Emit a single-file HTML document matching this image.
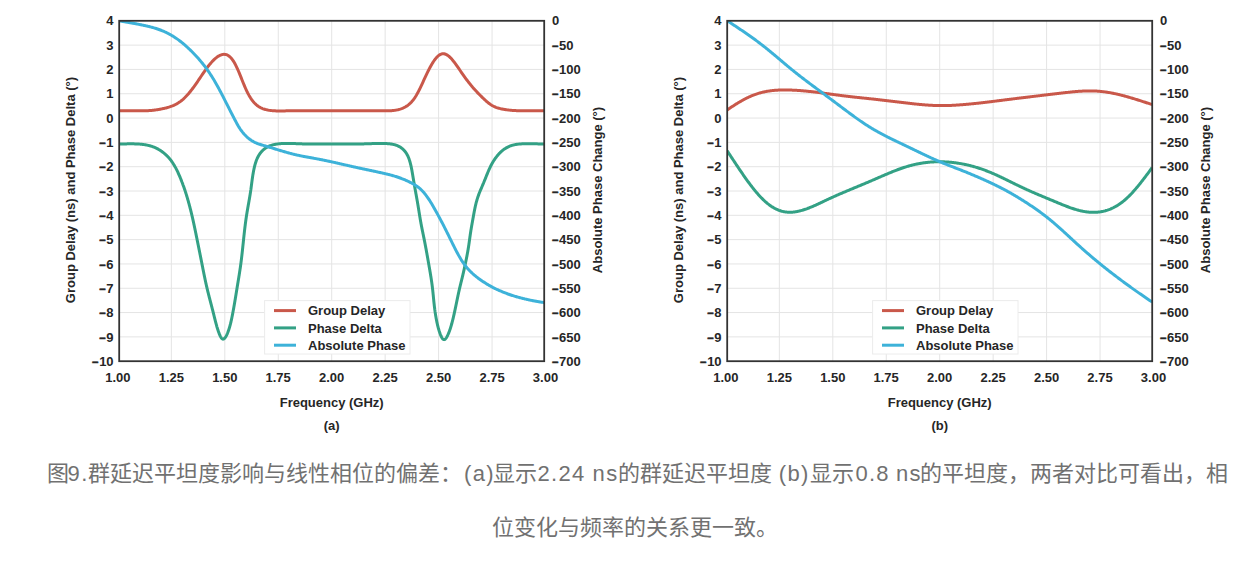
<!DOCTYPE html>
<html lang="zh-CN"><head><meta charset="utf-8"><style>
html,body{margin:0;padding:0;background:#fff}
body{width:1258px;height:564px;overflow:hidden;position:relative;font-family:"Liberation Sans",sans-serif}
svg{position:absolute;left:0;top:0}
svg text{font-family:"Liberation Sans",sans-serif;font-weight:bold;font-size:13px;fill:#262626}
.cap{position:absolute;font-size:22px;line-height:22px;color:#717171;white-space:nowrap}
</style></head><body>
<svg width="1258" height="564" viewBox="0 0 1258 564">
<path d="M119.2,45.11H544.2M119.2,69.43H544.2M119.2,93.74H544.2M119.2,118.06H544.2M119.2,142.37H544.2M119.2,166.69H544.2M119.2,191.00H544.2M119.2,215.31H544.2M119.2,239.63H544.2M119.2,263.94H544.2M119.2,288.26H544.2M119.2,312.57H544.2M119.2,336.89H544.2M171.35,20.8V361.2M224.80,20.8V361.2M278.25,20.8V361.2M331.70,20.8V361.2M385.15,20.8V361.2M438.60,20.8V361.2M492.05,20.8V361.2" stroke="#e4e4e4" stroke-width="1.0" fill="none"/>
<clipPath id="cpa"><rect x="119.2" y="20.8" width="425.0" height="340.4"/></clipPath><g clip-path="url(#cpa)">
<path d="M119.20,110.76 L119.91,110.76 L120.62,110.76 L121.33,110.76 L122.04,110.76 L122.75,110.76 L123.46,110.76 L124.17,110.76 L124.88,110.76 L125.59,110.76 L126.30,110.76 L127.00,110.76 L127.71,110.77 L128.42,110.77 L129.13,110.77 L129.84,110.77 L130.55,110.77 L131.26,110.77 L131.97,110.78 L132.68,110.78 L133.39,110.78 L134.10,110.78 L134.81,110.79 L135.52,110.79 L136.23,110.79 L136.94,110.79 L137.65,110.79 L138.36,110.79 L139.07,110.79 L139.78,110.79 L140.49,110.79 L141.19,110.79 L141.90,110.79 L142.61,110.79 L143.32,110.78 L144.03,110.77 L144.74,110.76 L145.45,110.75 L146.16,110.73 L146.87,110.71 L147.58,110.68 L148.29,110.65 L149.00,110.61 L149.71,110.57 L150.42,110.52 L151.13,110.46 L151.84,110.40 L152.55,110.33 L153.26,110.25 L153.97,110.17 L154.68,110.08 L155.39,109.98 L156.09,109.88 L156.80,109.77 L157.51,109.66 L158.22,109.54 L158.93,109.42 L159.64,109.29 L160.35,109.16 L161.06,109.02 L161.77,108.88 L162.48,108.74 L163.19,108.59 L163.90,108.44 L164.61,108.28 L165.32,108.11 L166.03,107.94 L166.74,107.76 L167.45,107.56 L168.16,107.36 L168.87,107.15 L169.58,106.93 L170.29,106.69 L170.99,106.44 L171.70,106.18 L172.41,105.91 L173.12,105.61 L173.83,105.31 L174.54,104.98 L175.25,104.64 L175.96,104.27 L176.67,103.89 L177.38,103.48 L178.09,103.05 L178.80,102.59 L179.51,102.11 L180.22,101.60 L180.93,101.06 L181.64,100.50 L182.35,99.91 L183.06,99.29 L183.77,98.64 L184.48,97.96 L185.18,97.26 L185.89,96.54 L186.60,95.79 L187.31,95.02 L188.02,94.22 L188.73,93.40 L189.44,92.55 L190.15,91.69 L190.86,90.80 L191.57,89.89 L192.28,88.97 L192.99,88.02 L193.70,87.06 L194.41,86.08 L195.12,85.09 L195.83,84.09 L196.54,83.07 L197.25,82.04 L197.96,81.00 L198.67,79.95 L199.38,78.89 L200.08,77.83 L200.79,76.78 L201.50,75.72 L202.21,74.67 L202.92,73.62 L203.63,72.59 L204.34,71.56 L205.05,70.55 L205.76,69.56 L206.47,68.58 L207.18,67.63 L207.89,66.69 L208.60,65.78 L209.31,64.89 L210.02,64.03 L210.73,63.19 L211.44,62.38 L212.15,61.60 L212.86,60.85 L213.57,60.14 L214.28,59.45 L214.98,58.80 L215.69,58.19 L216.40,57.61 L217.11,57.08 L217.82,56.59 L218.53,56.14 L219.24,55.73 L219.95,55.38 L220.66,55.07 L221.37,54.81 L222.08,54.61 L222.79,54.46 L223.50,54.37 L224.21,54.34 L224.92,54.38 L225.63,54.49 L226.34,54.67 L227.05,54.93 L227.76,55.27 L228.47,55.69 L229.17,56.20 L229.88,56.79 L230.59,57.47 L231.30,58.25 L232.01,59.12 L232.72,60.09 L233.43,61.14 L234.14,62.29 L234.85,63.54 L235.56,64.87 L236.27,66.30 L236.98,67.81 L237.69,69.38 L238.40,71.02 L239.11,72.70 L239.82,74.42 L240.53,76.17 L241.24,77.93 L241.95,79.71 L242.66,81.47 L243.37,83.22 L244.07,84.93 L244.78,86.61 L245.49,88.23 L246.20,89.80 L246.91,91.29 L247.62,92.73 L248.33,94.09 L249.04,95.39 L249.75,96.62 L250.46,97.77 L251.17,98.85 L251.88,99.85 L252.59,100.79 L253.30,101.67 L254.01,102.48 L254.72,103.24 L255.43,103.94 L256.14,104.59 L256.85,105.19 L257.56,105.74 L258.27,106.25 L258.97,106.72 L259.68,107.15 L260.39,107.54 L261.10,107.90 L261.81,108.23 L262.52,108.53 L263.23,108.80 L263.94,109.05 L264.65,109.27 L265.36,109.48 L266.07,109.66 L266.78,109.83 L267.49,109.99 L268.20,110.12 L268.91,110.25 L269.62,110.36 L270.33,110.46 L271.04,110.54 L271.75,110.62 L272.46,110.68 L273.16,110.74 L273.87,110.79 L274.58,110.83 L275.29,110.87 L276.00,110.90 L276.71,110.92 L277.42,110.94 L278.13,110.95 L278.84,110.96 L279.55,110.96 L280.26,110.96 L280.97,110.96 L281.68,110.96 L282.39,110.95 L283.10,110.93 L283.81,110.92 L284.52,110.91 L285.23,110.89 L285.94,110.87 L286.65,110.86 L287.36,110.84 L288.06,110.82 L288.77,110.81 L289.48,110.79 L290.19,110.78 L290.90,110.77 L291.61,110.76 L292.32,110.75 L293.03,110.74 L293.74,110.74 L294.45,110.73 L295.16,110.73 L295.87,110.72 L296.58,110.72 L297.29,110.72 L298.00,110.72 L298.71,110.71 L299.42,110.71 L300.13,110.72 L300.84,110.72 L301.55,110.72 L302.26,110.72 L302.96,110.72 L303.67,110.73 L304.38,110.73 L305.09,110.73 L305.80,110.74 L306.51,110.74 L307.22,110.74 L307.93,110.75 L308.64,110.75 L309.35,110.75 L310.06,110.76 L310.77,110.76 L311.48,110.76 L312.19,110.76 L312.90,110.76 L313.61,110.77 L314.32,110.77 L315.03,110.77 L315.74,110.77 L316.45,110.77 L317.15,110.77 L317.86,110.77 L318.57,110.77 L319.28,110.77 L319.99,110.77 L320.70,110.77 L321.41,110.77 L322.12,110.77 L322.83,110.77 L323.54,110.77 L324.25,110.77 L324.96,110.77 L325.67,110.77 L326.38,110.77 L327.09,110.77 L327.80,110.77 L328.51,110.77 L329.22,110.77 L329.93,110.77 L330.64,110.77 L331.35,110.76 L332.05,110.76 L332.76,110.76 L333.47,110.76 L334.18,110.76 L334.89,110.76 L335.60,110.76 L336.31,110.76 L337.02,110.76 L337.73,110.76 L338.44,110.76 L339.15,110.76 L339.86,110.76 L340.57,110.76 L341.28,110.76 L341.99,110.76 L342.70,110.76 L343.41,110.76 L344.12,110.76 L344.83,110.76 L345.54,110.76 L346.25,110.76 L346.95,110.76 L347.66,110.76 L348.37,110.76 L349.08,110.76 L349.79,110.76 L350.50,110.76 L351.21,110.76 L351.92,110.76 L352.63,110.76 L353.34,110.76 L354.05,110.76 L354.76,110.76 L355.47,110.76 L356.18,110.76 L356.89,110.76 L357.60,110.75 L358.31,110.75 L359.02,110.75 L359.73,110.75 L360.44,110.75 L361.14,110.75 L361.85,110.75 L362.56,110.75 L363.27,110.75 L363.98,110.75 L364.69,110.75 L365.40,110.75 L366.11,110.75 L366.82,110.75 L367.53,110.75 L368.24,110.75 L368.95,110.75 L369.66,110.75 L370.37,110.76 L371.08,110.76 L371.79,110.76 L372.50,110.76 L373.21,110.77 L373.92,110.77 L374.63,110.77 L375.34,110.78 L376.04,110.78 L376.75,110.79 L377.46,110.79 L378.17,110.80 L378.88,110.80 L379.59,110.81 L380.30,110.81 L381.01,110.82 L381.72,110.82 L382.43,110.83 L383.14,110.83 L383.85,110.83 L384.56,110.83 L385.27,110.83 L385.98,110.83 L386.69,110.83 L387.40,110.82 L388.11,110.81 L388.82,110.79 L389.53,110.77 L390.24,110.74 L390.94,110.70 L391.65,110.66 L392.36,110.60 L393.07,110.53 L393.78,110.46 L394.49,110.37 L395.20,110.26 L395.91,110.14 L396.62,110.01 L397.33,109.86 L398.04,109.70 L398.75,109.52 L399.46,109.32 L400.17,109.10 L400.88,108.86 L401.59,108.60 L402.30,108.32 L403.01,108.02 L403.72,107.70 L404.43,107.35 L405.13,106.98 L405.84,106.58 L406.55,106.14 L407.26,105.67 L407.97,105.16 L408.68,104.61 L409.39,104.01 L410.10,103.36 L410.81,102.67 L411.52,101.92 L412.23,101.11 L412.94,100.25 L413.65,99.33 L414.36,98.34 L415.07,97.30 L415.78,96.19 L416.49,95.02 L417.20,93.78 L417.91,92.49 L418.62,91.14 L419.33,89.74 L420.03,88.30 L420.74,86.83 L421.45,85.33 L422.16,83.81 L422.87,82.28 L423.58,80.74 L424.29,79.20 L425.00,77.66 L425.71,76.14 L426.42,74.63 L427.13,73.14 L427.84,71.68 L428.55,70.26 L429.26,68.87 L429.97,67.52 L430.68,66.22 L431.39,64.97 L432.10,63.76 L432.81,62.61 L433.52,61.52 L434.23,60.48 L434.93,59.51 L435.64,58.60 L436.35,57.76 L437.06,56.99 L437.77,56.29 L438.48,55.68 L439.19,55.14 L439.90,54.69 L440.61,54.32 L441.32,54.05 L442.03,53.86 L442.74,53.76 L443.45,53.75 L444.16,53.82 L444.87,53.98 L445.58,54.22 L446.29,54.53 L447.00,54.92 L447.71,55.38 L448.42,55.90 L449.12,56.48 L449.83,57.13 L450.54,57.83 L451.25,58.58 L451.96,59.37 L452.67,60.21 L453.38,61.09 L454.09,62.00 L454.80,62.93 L455.51,63.90 L456.22,64.88 L456.93,65.88 L457.64,66.90 L458.35,67.92 L459.06,68.95 L459.77,69.98 L460.48,71.00 L461.19,72.03 L461.90,73.05 L462.61,74.07 L463.32,75.08 L464.02,76.09 L464.73,77.08 L465.44,78.07 L466.15,79.04 L466.86,79.99 L467.57,80.94 L468.28,81.86 L468.99,82.77 L469.70,83.67 L470.41,84.55 L471.12,85.42 L471.83,86.27 L472.54,87.11 L473.25,87.93 L473.96,88.74 L474.67,89.54 L475.38,90.32 L476.09,91.09 L476.80,91.85 L477.51,92.60 L478.22,93.34 L478.92,94.06 L479.63,94.78 L480.34,95.49 L481.05,96.19 L481.76,96.88 L482.47,97.57 L483.18,98.24 L483.89,98.92 L484.60,99.59 L485.31,100.24 L486.02,100.89 L486.73,101.52 L487.44,102.13 L488.15,102.72 L488.86,103.28 L489.57,103.82 L490.28,104.33 L490.99,104.80 L491.70,105.24 L492.41,105.65 L493.11,106.03 L493.82,106.39 L494.53,106.71 L495.24,107.02 L495.95,107.30 L496.66,107.56 L497.37,107.80 L498.08,108.02 L498.79,108.22 L499.50,108.41 L500.21,108.59 L500.92,108.76 L501.63,108.91 L502.34,109.06 L503.05,109.20 L503.76,109.33 L504.47,109.45 L505.18,109.57 L505.89,109.68 L506.60,109.78 L507.31,109.88 L508.01,109.97 L508.72,110.05 L509.43,110.13 L510.14,110.20 L510.85,110.26 L511.56,110.33 L512.27,110.38 L512.98,110.43 L513.69,110.48 L514.40,110.52 L515.11,110.56 L515.82,110.60 L516.53,110.63 L517.24,110.66 L517.95,110.69 L518.66,110.71 L519.37,110.73 L520.08,110.75 L520.79,110.76 L521.50,110.78 L522.21,110.79 L522.91,110.80 L523.62,110.80 L524.33,110.81 L525.04,110.81 L525.75,110.81 L526.46,110.81 L527.17,110.81 L527.88,110.81 L528.59,110.81 L529.30,110.80 L530.01,110.80 L530.72,110.80 L531.43,110.79 L532.14,110.79 L532.85,110.78 L533.56,110.78 L534.27,110.78 L534.98,110.77 L535.69,110.77 L536.40,110.77 L537.10,110.77 L537.81,110.76 L538.52,110.76 L539.23,110.76 L539.94,110.76 L540.65,110.76 L541.36,110.76 L542.07,110.76 L542.78,110.76 L543.49,110.76 L544.20,110.76" stroke="#c9584a" stroke-width="3" fill="none" stroke-linejoin="round"/>
<path d="M119.20,144.01 L119.76,144.00 L120.34,143.99 L120.91,143.98 L121.48,143.96 L122.05,143.95 L122.62,143.94 L123.19,143.93 L123.77,143.92 L124.34,143.91 L124.91,143.90 L125.48,143.90 L126.05,143.89 L126.63,143.88 L127.20,143.87 L127.77,143.87 L128.34,143.86 L128.92,143.86 L129.49,143.85 L130.06,143.85 L130.63,143.85 L131.21,143.85 L131.78,143.85 L132.35,143.85 L132.93,143.85 L133.50,143.86 L134.07,143.87 L134.64,143.88 L135.22,143.89 L135.79,143.91 L136.36,143.92 L136.93,143.95 L137.50,143.97 L138.07,144.00 L138.64,144.04 L139.21,144.07 L139.78,144.12 L140.35,144.16 L140.92,144.21 L141.49,144.27 L142.06,144.33 L142.62,144.40 L143.19,144.47 L143.75,144.55 L144.32,144.63 L144.88,144.72 L145.44,144.81 L146.00,144.91 L146.56,145.02 L147.11,145.13 L147.67,145.25 L148.22,145.38 L148.77,145.51 L149.32,145.65 L149.86,145.79 L150.40,145.95 L150.94,146.11 L151.48,146.27 L152.01,146.45 L152.55,146.63 L153.07,146.82 L153.60,147.02 L154.12,147.23 L154.64,147.44 L155.15,147.66 L155.67,147.89 L156.17,148.13 L156.68,148.38 L157.18,148.63 L157.67,148.90 L158.17,149.17 L158.65,149.44 L159.14,149.73 L159.62,150.02 L160.09,150.32 L160.57,150.63 L161.03,150.94 L161.50,151.26 L161.96,151.59 L162.41,151.92 L162.86,152.26 L163.31,152.60 L163.75,152.95 L164.19,153.31 L164.62,153.67 L165.05,154.04 L165.47,154.41 L165.89,154.79 L166.30,155.18 L166.71,155.57 L167.11,155.97 L167.51,156.37 L167.90,156.78 L168.28,157.19 L168.66,157.61 L169.04,158.03 L169.41,158.46 L169.77,158.89 L170.13,159.33 L170.48,159.77 L170.82,160.22 L171.17,160.67 L171.50,161.13 L171.83,161.59 L172.15,162.05 L172.47,162.52 L172.79,162.99 L173.09,163.47 L173.40,163.95 L173.70,164.43 L173.99,164.92 L174.28,165.40 L174.57,165.90 L174.85,166.39 L175.13,166.89 L175.41,167.39 L175.68,167.89 L175.95,168.39 L176.21,168.90 L176.47,169.40 L176.73,169.91 L176.98,170.42 L177.24,170.94 L177.48,171.45 L177.73,171.97 L177.97,172.48 L178.21,173.00 L178.45,173.52 L178.68,174.04 L178.91,174.57 L179.14,175.09 L179.37,175.61 L179.60,176.14 L179.82,176.67 L180.04,177.20 L180.26,177.72 L180.47,178.25 L180.69,178.78 L180.90,179.32 L181.11,179.85 L181.32,180.38 L181.53,180.91 L181.74,181.44 L181.94,181.98 L182.15,182.51 L182.35,183.04 L182.55,183.58 L182.75,184.11 L182.95,184.65 L183.14,185.19 L183.34,185.72 L183.53,186.26 L183.72,186.80 L183.91,187.33 L184.10,187.87 L184.29,188.41 L184.48,188.95 L184.66,189.49 L184.84,190.03 L185.02,190.57 L185.20,191.11 L185.38,191.65 L185.56,192.19 L185.73,192.73 L185.91,193.27 L186.08,193.82 L186.25,194.36 L186.42,194.90 L186.59,195.45 L186.75,195.99 L186.92,196.54 L187.08,197.08 L187.24,197.63 L187.41,198.17 L187.57,198.72 L187.72,199.26 L187.88,199.81 L188.04,200.36 L188.19,200.90 L188.35,201.45 L188.50,202.00 L188.65,202.55 L188.80,203.09 L188.95,203.64 L189.10,204.19 L189.25,204.74 L189.40,205.29 L189.55,205.84 L189.69,206.39 L189.83,206.94 L189.98,207.49 L190.12,208.04 L190.26,208.59 L190.40,209.14 L190.54,209.69 L190.68,210.24 L190.82,210.80 L190.96,211.35 L191.09,211.90 L191.23,212.45 L191.36,213.00 L191.50,213.56 L191.63,214.11 L191.76,214.66 L191.89,215.22 L192.02,215.77 L192.15,216.32 L192.28,216.88 L192.41,217.43 L192.54,217.98 L192.66,218.54 L192.79,219.09 L192.91,219.65 L193.04,220.20 L193.16,220.76 L193.28,221.31 L193.41,221.87 L193.53,222.42 L193.65,222.98 L193.77,223.54 L193.89,224.09 L194.01,224.65 L194.13,225.20 L194.25,225.76 L194.37,226.32 L194.49,226.87 L194.60,227.43 L194.72,227.98 L194.84,228.54 L194.95,229.10 L195.07,229.66 L195.18,230.21 L195.30,230.77 L195.41,231.33 L195.53,231.88 L195.64,232.44 L195.76,233.00 L195.87,233.56 L195.98,234.11 L196.10,234.67 L196.21,235.23 L196.32,235.79 L196.44,236.34 L196.55,236.90 L196.66,237.46 L196.78,238.02 L196.89,238.57 L197.00,239.13 L197.11,239.69 L197.23,240.25 L197.34,240.80 L197.45,241.36 L197.57,241.92 L197.68,242.48 L197.79,243.04 L197.90,243.59 L198.02,244.15 L198.13,244.71 L198.24,245.27 L198.35,245.83 L198.47,246.38 L198.58,246.94 L198.69,247.50 L198.80,248.06 L198.91,248.61 L199.03,249.17 L199.14,249.73 L199.25,250.29 L199.36,250.85 L199.47,251.40 L199.59,251.96 L199.70,252.52 L199.81,253.08 L199.92,253.63 L200.03,254.19 L200.14,254.75 L200.26,255.31 L200.37,255.86 L200.48,256.42 L200.59,256.98 L200.70,257.54 L200.81,258.10 L200.92,258.65 L201.03,259.21 L201.14,259.77 L201.25,260.33 L201.36,260.88 L201.47,261.44 L201.59,262.00 L201.70,262.56 L201.81,263.11 L201.92,263.67 L202.03,264.23 L202.13,264.79 L202.24,265.34 L202.35,265.90 L202.46,266.46 L202.57,267.01 L202.68,267.57 L202.79,268.13 L202.90,268.68 L203.01,269.24 L203.12,269.80 L203.23,270.35 L203.34,270.91 L203.46,271.47 L203.57,272.02 L203.68,272.58 L203.79,273.13 L203.90,273.69 L204.01,274.24 L204.13,274.80 L204.24,275.35 L204.35,275.91 L204.47,276.46 L204.58,277.02 L204.69,277.57 L204.81,278.12 L204.93,278.68 L205.04,279.23 L205.16,279.78 L205.28,280.33 L205.39,280.88 L205.51,281.44 L205.63,281.99 L205.75,282.54 L205.87,283.09 L205.99,283.64 L206.12,284.19 L206.24,284.74 L206.36,285.28 L206.49,285.83 L206.61,286.38 L206.74,286.93 L206.87,287.47 L206.99,288.02 L207.12,288.57 L207.25,289.11 L207.38,289.66 L207.52,290.20 L207.65,290.75 L207.78,291.29 L207.92,291.84 L208.05,292.38 L208.19,292.93 L208.33,293.47 L208.46,294.02 L208.60,294.57 L208.74,295.12 L208.88,295.66 L209.02,296.21 L209.16,296.77 L209.31,297.32 L209.45,297.87 L209.59,298.43 L209.74,298.98 L209.88,299.54 L210.03,300.10 L210.17,300.66 L210.32,301.23 L210.47,301.79 L210.62,302.36 L210.77,302.93 L210.92,303.50 L211.07,304.08 L211.22,304.65 L211.37,305.23 L211.52,305.81 L211.67,306.40 L211.82,306.99 L211.98,307.58 L212.13,308.18 L212.28,308.77 L212.44,309.37 L212.59,309.98 L212.75,310.59 L212.90,311.20 L213.06,311.82 L213.22,312.44 L213.37,313.06 L213.53,313.69 L213.69,314.32 L213.85,314.96 L214.00,315.60 L214.16,316.24 L214.32,316.88 L214.48,317.52 L214.64,318.17 L214.81,318.82 L214.97,319.46 L215.13,320.11 L215.30,320.76 L215.46,321.40 L215.63,322.05 L215.80,322.69 L215.97,323.33 L216.14,323.96 L216.31,324.60 L216.48,325.22 L216.66,325.85 L216.84,326.47 L217.01,327.08 L217.20,327.69 L217.38,328.29 L217.56,328.89 L217.75,329.48 L217.94,330.06 L218.13,330.63 L218.32,331.20 L218.51,331.75 L218.71,332.30 L218.91,332.84 L219.11,333.36 L219.31,333.88 L219.52,334.38 L219.73,334.88 L219.94,335.36 L220.15,335.82 L220.37,336.26 L220.59,336.69 L220.81,337.08 L221.04,337.45 L221.26,337.80 L221.49,338.11 L221.72,338.38 L221.96,338.62 L222.20,338.81 L222.44,338.96 L222.68,339.07 L222.92,339.13 L223.17,339.14 L223.42,339.09 L223.67,339.00 L223.92,338.86 L224.18,338.68 L224.43,338.46 L224.68,338.20 L224.94,337.91 L225.19,337.58 L225.44,337.22 L225.69,336.84 L225.94,336.42 L226.18,335.99 L226.42,335.53 L226.66,335.06 L226.89,334.57 L227.12,334.07 L227.35,333.56 L227.57,333.04 L227.78,332.51 L227.99,331.96 L228.20,331.41 L228.40,330.85 L228.60,330.28 L228.80,329.70 L228.99,329.11 L229.17,328.52 L229.36,327.92 L229.54,327.31 L229.71,326.69 L229.89,326.07 L230.06,325.45 L230.22,324.82 L230.39,324.19 L230.54,323.55 L230.70,322.91 L230.86,322.27 L231.01,321.62 L231.15,320.98 L231.30,320.33 L231.44,319.68 L231.58,319.03 L231.72,318.38 L231.86,317.73 L231.99,317.08 L232.12,316.43 L232.25,315.78 L232.38,315.14 L232.50,314.49 L232.63,313.86 L232.75,313.22 L232.87,312.59 L232.99,311.96 L233.10,311.34 L233.22,310.71 L233.33,310.10 L233.45,309.48 L233.56,308.87 L233.67,308.26 L233.77,307.66 L233.88,307.06 L233.99,306.46 L234.09,305.86 L234.20,305.27 L234.30,304.68 L234.40,304.09 L234.50,303.51 L234.60,302.92 L234.70,302.34 L234.80,301.76 L234.89,301.19 L234.99,300.61 L235.08,300.04 L235.18,299.47 L235.27,298.90 L235.37,298.33 L235.46,297.76 L235.55,297.20 L235.64,296.64 L235.74,296.07 L235.83,295.51 L235.92,294.95 L236.01,294.39 L236.10,293.83 L236.19,293.28 L236.28,292.72 L236.37,292.16 L236.46,291.61 L236.55,291.05 L236.64,290.50 L236.73,289.94 L236.82,289.39 L236.91,288.83 L237.00,288.28 L237.09,287.72 L237.18,287.17 L237.27,286.61 L237.36,286.06 L237.46,285.50 L237.55,284.95 L237.64,284.39 L237.73,283.84 L237.82,283.28 L237.91,282.72 L238.01,282.17 L238.10,281.61 L238.19,281.05 L238.28,280.50 L238.37,279.94 L238.46,279.38 L238.55,278.83 L238.65,278.27 L238.74,277.71 L238.83,277.15 L238.92,276.59 L239.01,276.03 L239.10,275.48 L239.19,274.92 L239.27,274.36 L239.36,273.80 L239.45,273.24 L239.54,272.68 L239.62,272.12 L239.71,271.56 L239.80,271.00 L239.88,270.44 L239.96,269.88 L240.05,269.32 L240.13,268.76 L240.21,268.20 L240.30,267.64 L240.38,267.08 L240.46,266.51 L240.53,265.95 L240.61,265.39 L240.69,264.83 L240.77,264.27 L240.84,263.70 L240.92,263.14 L240.99,262.58 L241.06,262.02 L241.14,261.45 L241.21,260.89 L241.28,260.33 L241.35,259.76 L241.42,259.20 L241.49,258.63 L241.55,258.07 L241.62,257.51 L241.69,256.94 L241.75,256.38 L241.82,255.81 L241.88,255.25 L241.95,254.68 L242.01,254.12 L242.08,253.55 L242.14,252.99 L242.20,252.42 L242.26,251.86 L242.33,251.29 L242.39,250.73 L242.45,250.16 L242.51,249.60 L242.57,249.03 L242.63,248.47 L242.69,247.90 L242.75,247.33 L242.81,246.77 L242.87,246.20 L242.93,245.64 L242.99,245.07 L243.05,244.50 L243.11,243.94 L243.17,243.37 L243.23,242.81 L243.29,242.24 L243.35,241.67 L243.40,241.11 L243.46,240.54 L243.52,239.98 L243.58,239.41 L243.64,238.84 L243.70,238.28 L243.76,237.71 L243.82,237.15 L243.88,236.58 L243.94,236.01 L244.00,235.45 L244.07,234.88 L244.13,234.32 L244.19,233.75 L244.25,233.19 L244.32,232.62 L244.38,232.05 L244.44,231.49 L244.51,230.92 L244.57,230.36 L244.64,229.79 L244.70,229.23 L244.77,228.66 L244.84,228.10 L244.90,227.53 L244.97,226.97 L245.04,226.41 L245.11,225.84 L245.18,225.28 L245.25,224.71 L245.32,224.15 L245.39,223.58 L245.47,223.02 L245.54,222.46 L245.62,221.89 L245.69,221.33 L245.77,220.77 L245.85,220.20 L245.93,219.64 L246.01,219.08 L246.09,218.52 L246.17,217.95 L246.25,217.39 L246.33,216.83 L246.42,216.27 L246.51,215.71 L246.59,215.15 L246.68,214.59 L246.77,214.03 L246.86,213.46 L246.95,212.90 L247.04,212.34 L247.14,211.78 L247.23,211.22 L247.33,210.66 L247.42,210.10 L247.52,209.54 L247.61,208.98 L247.71,208.42 L247.81,207.87 L247.91,207.31 L248.00,206.75 L248.10,206.19 L248.20,205.63 L248.30,205.07 L248.40,204.51 L248.50,203.95 L248.60,203.39 L248.70,202.83 L248.80,202.27 L248.89,201.71 L248.99,201.15 L249.09,200.59 L249.19,200.02 L249.29,199.46 L249.38,198.90 L249.48,198.34 L249.57,197.78 L249.67,197.22 L249.76,196.65 L249.86,196.09 L249.95,195.53 L250.04,194.97 L250.13,194.40 L250.22,193.84 L250.31,193.27 L250.40,192.71 L250.48,192.14 L250.57,191.58 L250.65,191.01 L250.73,190.45 L250.82,189.88 L250.89,189.31 L250.97,188.74 L251.05,188.18 L251.13,187.61 L251.20,187.04 L251.28,186.47 L251.35,185.90 L251.43,185.33 L251.50,184.76 L251.58,184.19 L251.65,183.62 L251.73,183.05 L251.80,182.48 L251.88,181.91 L251.95,181.34 L252.03,180.77 L252.10,180.20 L252.18,179.63 L252.26,179.06 L252.34,178.49 L252.42,177.92 L252.51,177.35 L252.59,176.78 L252.68,176.21 L252.76,175.64 L252.85,175.07 L252.95,174.51 L253.04,173.94 L253.14,173.37 L253.23,172.80 L253.34,172.24 L253.44,171.67 L253.55,171.11 L253.66,170.54 L253.77,169.98 L253.88,169.41 L254.00,168.85 L254.13,168.29 L254.25,167.72 L254.38,167.16 L254.52,166.60 L254.65,166.04 L254.80,165.49 L254.94,164.93 L255.10,164.38 L255.25,163.83 L255.42,163.28 L255.59,162.73 L255.76,162.19 L255.95,161.65 L256.13,161.11 L256.33,160.58 L256.53,160.05 L256.74,159.53 L256.96,159.01 L257.18,158.50 L257.42,157.99 L257.66,157.48 L257.91,156.98 L258.17,156.49 L258.44,156.00 L258.72,155.52 L259.00,155.05 L259.30,154.58 L259.61,154.12 L259.92,153.67 L260.24,153.23 L260.58,152.79 L260.92,152.36 L261.27,151.94 L261.63,151.53 L262.00,151.13 L262.38,150.74 L262.77,150.36 L263.17,149.99 L263.57,149.63 L263.99,149.29 L264.41,148.95 L264.84,148.62 L265.28,148.31 L265.73,148.00 L266.19,147.71 L266.65,147.43 L267.12,147.15 L267.60,146.90 L268.08,146.65 L268.58,146.41 L269.07,146.19 L269.58,145.97 L270.09,145.77 L270.60,145.58 L271.12,145.40 L271.65,145.23 L272.18,145.07 L272.71,144.92 L273.25,144.78 L273.80,144.65 L274.34,144.53 L274.89,144.41 L275.44,144.30 L276.00,144.20 L276.55,144.11 L277.11,144.03 L277.67,143.95 L278.24,143.87 L278.80,143.81 L279.37,143.75 L279.93,143.69 L280.50,143.64 L281.07,143.60 L281.64,143.56 L282.21,143.52 L282.78,143.49 L283.35,143.46 L283.92,143.44 L284.50,143.42 L285.07,143.41 L285.65,143.40 L286.22,143.39 L286.80,143.39 L287.37,143.39 L287.95,143.39 L288.53,143.40 L289.11,143.41 L289.68,143.42 L290.26,143.43 L290.84,143.44 L291.42,143.46 L292.00,143.48 L292.58,143.50 L293.16,143.52 L293.74,143.54 L294.32,143.56 L294.90,143.59 L295.48,143.61 L296.06,143.64 L296.64,143.66 L297.22,143.68 L297.79,143.71 L298.37,143.73 L298.95,143.76 L299.53,143.78 L300.10,143.80 L300.68,143.82 L301.26,143.84 L301.83,143.86 L302.41,143.88 L302.98,143.89 L303.56,143.91 L304.13,143.92 L304.71,143.94 L305.28,143.95 L305.85,143.97 L306.42,143.98 L307.00,143.99 L307.57,144.00 L308.14,144.01 L308.71,144.02 L309.28,144.03 L309.85,144.03 L310.42,144.04 L310.99,144.05 L311.57,144.05 L312.14,144.06 L312.70,144.07 L313.27,144.07 L313.84,144.07 L314.41,144.08 L314.98,144.08 L315.55,144.09 L316.12,144.09 L316.69,144.09 L317.26,144.09 L317.82,144.10 L318.39,144.10 L318.96,144.10 L319.53,144.10 L320.10,144.10 L320.67,144.10 L321.23,144.10 L321.80,144.11 L322.37,144.11 L322.94,144.11 L323.51,144.11 L324.07,144.11 L324.64,144.11 L325.21,144.11 L325.78,144.11 L326.35,144.11 L326.91,144.11 L327.48,144.11 L328.05,144.11 L328.62,144.11 L329.19,144.11 L329.75,144.11 L330.32,144.11 L330.89,144.11 L331.46,144.11 L332.03,144.11 L332.59,144.11 L333.16,144.11 L333.73,144.11 L334.30,144.11 L334.86,144.11 L335.43,144.11 L336.00,144.11 L336.57,144.11 L337.14,144.11 L337.70,144.11 L338.27,144.11 L338.84,144.11 L339.41,144.11 L339.98,144.11 L340.54,144.11 L341.11,144.11 L341.68,144.11 L342.25,144.11 L342.81,144.11 L343.38,144.11 L343.95,144.11 L344.52,144.11 L345.09,144.11 L345.65,144.11 L346.22,144.11 L346.79,144.11 L347.36,144.11 L347.93,144.11 L348.50,144.10 L349.06,144.10 L349.63,144.10 L350.20,144.10 L350.77,144.10 L351.34,144.09 L351.91,144.09 L352.48,144.09 L353.05,144.08 L353.62,144.08 L354.19,144.07 L354.76,144.07 L355.33,144.06 L355.90,144.05 L356.47,144.05 L357.04,144.04 L357.61,144.03 L358.18,144.02 L358.75,144.01 L359.33,144.00 L359.90,143.99 L360.47,143.98 L361.04,143.97 L361.62,143.95 L362.19,143.94 L362.76,143.92 L363.34,143.91 L363.91,143.89 L364.49,143.87 L365.06,143.85 L365.64,143.84 L366.21,143.82 L366.79,143.80 L367.37,143.78 L367.94,143.76 L368.52,143.73 L369.10,143.71 L369.67,143.69 L370.25,143.67 L370.83,143.65 L371.41,143.63 L371.98,143.61 L372.56,143.59 L373.14,143.58 L373.72,143.56 L374.29,143.54 L374.87,143.53 L375.45,143.51 L376.03,143.50 L376.60,143.49 L377.18,143.48 L377.76,143.47 L378.34,143.46 L378.91,143.46 L379.49,143.45 L380.07,143.45 L380.64,143.45 L381.22,143.45 L381.79,143.46 L382.37,143.47 L382.94,143.47 L383.52,143.49 L384.09,143.50 L384.67,143.52 L385.24,143.54 L385.82,143.56 L386.39,143.59 L386.96,143.62 L387.53,143.66 L388.10,143.70 L388.67,143.74 L389.23,143.79 L389.79,143.85 L390.36,143.92 L390.91,143.99 L391.47,144.07 L392.02,144.16 L392.57,144.26 L393.11,144.37 L393.65,144.49 L394.18,144.62 L394.71,144.75 L395.24,144.91 L395.76,145.07 L396.27,145.24 L396.78,145.43 L397.29,145.63 L397.78,145.84 L398.27,146.07 L398.75,146.30 L399.23,146.55 L399.70,146.81 L400.15,147.09 L400.60,147.37 L401.05,147.67 L401.48,147.98 L401.90,148.31 L402.31,148.64 L402.72,148.99 L403.11,149.35 L403.49,149.73 L403.87,150.11 L404.23,150.50 L404.58,150.91 L404.93,151.32 L405.26,151.75 L405.58,152.18 L405.90,152.63 L406.20,153.08 L406.49,153.54 L406.77,154.01 L407.04,154.48 L407.30,154.97 L407.56,155.46 L407.80,155.96 L408.03,156.47 L408.26,156.98 L408.47,157.49 L408.68,158.02 L408.88,158.54 L409.08,159.08 L409.26,159.61 L409.44,160.15 L409.62,160.70 L409.79,161.24 L409.95,161.79 L410.10,162.35 L410.26,162.90 L410.40,163.46 L410.54,164.01 L410.68,164.57 L410.82,165.14 L410.95,165.70 L411.07,166.26 L411.20,166.83 L411.31,167.39 L411.43,167.96 L411.54,168.53 L411.65,169.10 L411.76,169.66 L411.87,170.23 L411.97,170.81 L412.07,171.38 L412.17,171.95 L412.27,172.52 L412.37,173.09 L412.47,173.66 L412.56,174.23 L412.66,174.80 L412.75,175.38 L412.85,175.95 L412.94,176.52 L413.04,177.09 L413.13,177.66 L413.23,178.22 L413.32,178.79 L413.42,179.36 L413.51,179.93 L413.61,180.49 L413.71,181.06 L413.80,181.63 L413.90,182.19 L414.00,182.76 L414.10,183.32 L414.19,183.89 L414.29,184.45 L414.39,185.01 L414.49,185.58 L414.59,186.14 L414.69,186.70 L414.78,187.26 L414.88,187.83 L414.98,188.39 L415.08,188.95 L415.18,189.51 L415.28,190.07 L415.39,190.63 L415.49,191.19 L415.59,191.75 L415.69,192.31 L415.79,192.87 L415.89,193.43 L415.99,193.99 L416.10,194.55 L416.20,195.11 L416.30,195.67 L416.40,196.23 L416.50,196.79 L416.60,197.35 L416.70,197.91 L416.80,198.47 L416.90,199.03 L417.00,199.59 L417.10,200.15 L417.20,200.71 L417.30,201.27 L417.40,201.83 L417.49,202.39 L417.59,202.95 L417.68,203.51 L417.78,204.07 L417.87,204.63 L417.97,205.19 L418.06,205.75 L418.15,206.31 L418.24,206.87 L418.33,207.43 L418.43,207.99 L418.52,208.55 L418.61,209.11 L418.70,209.67 L418.79,210.23 L418.88,210.79 L418.97,211.36 L419.06,211.92 L419.15,212.48 L419.24,213.04 L419.33,213.60 L419.42,214.16 L419.51,214.72 L419.60,215.28 L419.69,215.84 L419.78,216.40 L419.88,216.97 L419.97,217.53 L420.06,218.09 L420.16,218.65 L420.25,219.21 L420.35,219.77 L420.44,220.33 L420.54,220.89 L420.64,221.45 L420.74,222.01 L420.84,222.57 L420.94,223.12 L421.04,223.68 L421.15,224.24 L421.25,224.80 L421.36,225.36 L421.46,225.92 L421.57,226.48 L421.68,227.03 L421.79,227.59 L421.90,228.15 L422.01,228.71 L422.12,229.26 L422.24,229.82 L422.35,230.38 L422.46,230.94 L422.57,231.49 L422.69,232.05 L422.80,232.61 L422.92,233.16 L423.03,233.72 L423.15,234.28 L423.26,234.83 L423.38,235.39 L423.49,235.95 L423.60,236.51 L423.72,237.06 L423.83,237.62 L423.95,238.18 L424.06,238.74 L424.17,239.29 L424.28,239.85 L424.39,240.41 L424.51,240.97 L424.62,241.52 L424.72,242.08 L424.83,242.64 L424.94,243.20 L425.05,243.76 L425.16,244.32 L425.26,244.88 L425.37,245.43 L425.48,245.99 L425.58,246.55 L425.69,247.11 L425.79,247.67 L425.90,248.23 L426.00,248.79 L426.10,249.35 L426.21,249.91 L426.31,250.47 L426.41,251.03 L426.51,251.59 L426.61,252.15 L426.72,252.71 L426.82,253.27 L426.92,253.83 L427.02,254.39 L427.12,254.95 L427.22,255.51 L427.32,256.07 L427.42,256.63 L427.52,257.19 L427.62,257.75 L427.72,258.30 L427.81,258.86 L427.91,259.42 L428.01,259.98 L428.11,260.54 L428.21,261.10 L428.31,261.66 L428.41,262.22 L428.50,262.78 L428.60,263.34 L428.70,263.90 L428.80,264.46 L428.90,265.02 L429.00,265.58 L429.09,266.14 L429.19,266.70 L429.29,267.26 L429.39,267.82 L429.48,268.38 L429.58,268.93 L429.68,269.49 L429.77,270.05 L429.87,270.61 L429.96,271.17 L430.06,271.73 L430.15,272.29 L430.25,272.85 L430.34,273.41 L430.43,273.96 L430.53,274.52 L430.62,275.08 L430.71,275.64 L430.80,276.20 L430.89,276.76 L430.98,277.32 L431.06,277.87 L431.15,278.43 L431.24,278.99 L431.32,279.55 L431.40,280.11 L431.49,280.66 L431.57,281.22 L431.65,281.78 L431.73,282.34 L431.81,282.90 L431.89,283.46 L431.96,284.01 L432.04,284.57 L432.11,285.13 L432.18,285.69 L432.25,286.24 L432.32,286.80 L432.39,287.36 L432.46,287.92 L432.52,288.48 L432.59,289.03 L432.65,289.59 L432.71,290.15 L432.77,290.71 L432.83,291.27 L432.89,291.83 L432.95,292.39 L433.01,292.95 L433.06,293.51 L433.12,294.07 L433.18,294.64 L433.23,295.20 L433.29,295.76 L433.34,296.33 L433.40,296.90 L433.45,297.47 L433.51,298.04 L433.56,298.61 L433.62,299.18 L433.68,299.76 L433.74,300.34 L433.79,300.91 L433.85,301.50 L433.91,302.08 L433.97,302.66 L434.04,303.25 L434.10,303.84 L434.17,304.43 L434.23,305.02 L434.30,305.62 L434.37,306.22 L434.44,306.82 L434.51,307.43 L434.59,308.03 L434.67,308.64 L434.74,309.26 L434.83,309.87 L434.91,310.49 L435.00,311.12 L435.08,311.74 L435.18,312.37 L435.27,313.01 L435.37,313.64 L435.47,314.28 L435.57,314.93 L435.67,315.57 L435.78,316.22 L435.89,316.87 L436.01,317.52 L436.12,318.17 L436.24,318.83 L436.37,319.48 L436.49,320.13 L436.62,320.78 L436.75,321.43 L436.89,322.08 L437.03,322.73 L437.17,323.37 L437.31,324.01 L437.46,324.65 L437.61,325.28 L437.76,325.91 L437.92,326.54 L438.08,327.16 L438.24,327.78 L438.41,328.39 L438.58,328.99 L438.75,329.59 L438.93,330.18 L439.10,330.76 L439.29,331.34 L439.47,331.90 L439.66,332.46 L439.85,333.01 L440.05,333.55 L440.24,334.08 L440.44,334.60 L440.65,335.11 L440.86,335.60 L441.07,336.08 L441.28,336.54 L441.50,336.98 L441.72,337.39 L441.94,337.78 L442.16,338.14 L442.39,338.46 L442.62,338.75 L442.85,339.01 L443.09,339.22 L443.33,339.39 L443.57,339.52 L443.81,339.60 L444.05,339.63 L444.29,339.60 L444.54,339.53 L444.79,339.41 L445.03,339.25 L445.28,339.04 L445.53,338.79 L445.78,338.51 L446.03,338.19 L446.28,337.84 L446.52,337.46 L446.77,337.05 L447.01,336.62 L447.25,336.17 L447.49,335.70 L447.73,335.21 L447.96,334.71 L448.19,334.20 L448.41,333.68 L448.64,333.14 L448.86,332.60 L449.07,332.05 L449.28,331.49 L449.49,330.93 L449.70,330.35 L449.90,329.77 L450.10,329.18 L450.30,328.59 L450.49,327.99 L450.68,327.38 L450.87,326.77 L451.06,326.15 L451.24,325.53 L451.42,324.90 L451.60,324.28 L451.77,323.64 L451.94,323.01 L452.11,322.37 L452.28,321.73 L452.44,321.09 L452.60,320.45 L452.76,319.81 L452.92,319.16 L453.08,318.52 L453.23,317.88 L453.38,317.23 L453.53,316.59 L453.68,315.95 L453.82,315.32 L453.97,314.68 L454.11,314.05 L454.25,313.42 L454.39,312.79 L454.52,312.17 L454.66,311.55 L454.79,310.93 L454.92,310.32 L455.05,309.71 L455.18,309.11 L455.31,308.50 L455.44,307.90 L455.56,307.31 L455.69,306.71 L455.81,306.12 L455.93,305.53 L456.05,304.95 L456.17,304.36 L456.29,303.78 L456.41,303.21 L456.53,302.63 L456.65,302.06 L456.77,301.48 L456.89,300.91 L457.00,300.35 L457.12,299.78 L457.24,299.21 L457.35,298.65 L457.47,298.09 L457.59,297.53 L457.70,296.97 L457.82,296.42 L457.94,295.86 L458.05,295.31 L458.17,294.75 L458.29,294.20 L458.41,293.65 L458.53,293.10 L458.65,292.55 L458.77,292.00 L458.89,291.46 L459.01,290.91 L459.13,290.36 L459.26,289.82 L459.38,289.27 L459.51,288.72 L459.63,288.18 L459.76,287.63 L459.89,287.09 L460.02,286.54 L460.15,285.99 L460.29,285.45 L460.42,284.90 L460.55,284.36 L460.69,283.81 L460.82,283.26 L460.96,282.72 L461.09,282.17 L461.23,281.63 L461.36,281.08 L461.50,280.53 L461.63,279.98 L461.77,279.44 L461.90,278.89 L462.04,278.34 L462.17,277.79 L462.30,277.24 L462.44,276.69 L462.57,276.14 L462.70,275.59 L462.83,275.04 L462.96,274.49 L463.09,273.94 L463.22,273.39 L463.35,272.83 L463.47,272.28 L463.60,271.73 L463.72,271.17 L463.85,270.62 L463.97,270.07 L464.10,269.51 L464.22,268.96 L464.34,268.40 L464.47,267.85 L464.59,267.29 L464.71,266.74 L464.83,266.18 L464.95,265.63 L465.07,265.07 L465.18,264.51 L465.30,263.96 L465.42,263.40 L465.54,262.84 L465.65,262.29 L465.77,261.73 L465.88,261.17 L466.00,260.62 L466.11,260.06 L466.23,259.50 L466.34,258.94 L466.45,258.39 L466.56,257.83 L466.67,257.27 L466.78,256.71 L466.89,256.15 L467.00,255.59 L467.10,255.04 L467.21,254.48 L467.31,253.92 L467.41,253.36 L467.52,252.80 L467.62,252.24 L467.72,251.68 L467.82,251.12 L467.91,250.56 L468.01,250.00 L468.10,249.44 L468.20,248.88 L468.29,248.32 L468.38,247.76 L468.47,247.19 L468.56,246.63 L468.65,246.07 L468.73,245.51 L468.82,244.95 L468.90,244.38 L468.98,243.82 L469.06,243.26 L469.14,242.70 L469.22,242.13 L469.30,241.57 L469.38,241.01 L469.46,240.45 L469.53,239.88 L469.61,239.32 L469.69,238.76 L469.77,238.19 L469.84,237.63 L469.92,237.07 L470.00,236.50 L470.08,235.94 L470.16,235.38 L470.24,234.82 L470.32,234.25 L470.40,233.69 L470.49,233.13 L470.57,232.57 L470.66,232.00 L470.75,231.44 L470.83,230.88 L470.92,230.32 L471.01,229.76 L471.11,229.20 L471.20,228.64 L471.29,228.08 L471.39,227.51 L471.49,226.95 L471.58,226.39 L471.68,225.83 L471.78,225.27 L471.88,224.71 L471.98,224.15 L472.08,223.59 L472.18,223.03 L472.28,222.47 L472.38,221.91 L472.48,221.35 L472.58,220.79 L472.68,220.23 L472.78,219.67 L472.88,219.11 L472.98,218.55 L473.08,217.99 L473.18,217.43 L473.28,216.87 L473.38,216.31 L473.48,215.75 L473.59,215.19 L473.69,214.63 L473.79,214.07 L473.89,213.51 L473.99,212.95 L474.10,212.40 L474.20,211.84 L474.31,211.28 L474.42,210.72 L474.53,210.16 L474.64,209.61 L474.75,209.05 L474.86,208.49 L474.98,207.94 L475.09,207.38 L475.21,206.83 L475.34,206.27 L475.46,205.72 L475.59,205.17 L475.72,204.62 L475.85,204.06 L475.98,203.52 L476.12,202.97 L476.26,202.42 L476.41,201.87 L476.56,201.33 L476.71,200.78 L476.87,200.24 L477.03,199.70 L477.19,199.16 L477.36,198.62 L477.53,198.08 L477.70,197.54 L477.88,197.01 L478.06,196.47 L478.24,195.94 L478.43,195.41 L478.62,194.88 L478.82,194.35 L479.02,193.82 L479.22,193.29 L479.43,192.76 L479.64,192.24 L479.85,191.72 L480.06,191.19 L480.28,190.67 L480.50,190.15 L480.72,189.63 L480.94,189.11 L481.17,188.59 L481.39,188.07 L481.61,187.55 L481.84,187.02 L482.06,186.50 L482.28,185.98 L482.51,185.46 L482.73,184.94 L482.95,184.41 L483.17,183.89 L483.39,183.36 L483.61,182.84 L483.82,182.31 L484.04,181.79 L484.26,181.26 L484.47,180.73 L484.69,180.20 L484.90,179.67 L485.12,179.15 L485.33,178.62 L485.54,178.09 L485.76,177.56 L485.97,177.03 L486.18,176.50 L486.39,175.97 L486.61,175.43 L486.82,174.90 L487.04,174.37 L487.25,173.84 L487.47,173.31 L487.69,172.79 L487.91,172.26 L488.13,171.73 L488.35,171.20 L488.58,170.68 L488.80,170.15 L489.03,169.63 L489.27,169.11 L489.50,168.59 L489.74,168.07 L489.99,167.55 L490.23,167.04 L490.48,166.52 L490.74,166.01 L491.00,165.50 L491.26,165.00 L491.53,164.49 L491.80,163.99 L492.08,163.49 L492.36,162.99 L492.64,162.50 L492.94,162.01 L493.23,161.52 L493.53,161.03 L493.84,160.55 L494.15,160.07 L494.46,159.60 L494.78,159.13 L495.11,158.66 L495.44,158.19 L495.77,157.73 L496.11,157.28 L496.46,156.82 L496.81,156.38 L497.16,155.93 L497.52,155.49 L497.88,155.06 L498.25,154.63 L498.63,154.21 L499.01,153.79 L499.39,153.38 L499.78,152.97 L500.18,152.58 L500.58,152.18 L500.99,151.80 L501.40,151.42 L501.82,151.05 L502.25,150.69 L502.68,150.34 L503.11,149.99 L503.56,149.66 L504.00,149.33 L504.46,149.01 L504.92,148.71 L505.38,148.41 L505.85,148.12 L506.33,147.84 L506.81,147.57 L507.30,147.31 L507.79,147.05 L508.28,146.81 L508.79,146.58 L509.29,146.36 L509.80,146.15 L510.32,145.95 L510.84,145.76 L511.36,145.59 L511.89,145.42 L512.42,145.26 L512.95,145.12 L513.49,144.98 L514.03,144.85 L514.58,144.73 L515.12,144.62 L515.67,144.52 L516.23,144.42 L516.78,144.34 L517.34,144.26 L517.90,144.19 L518.46,144.12 L519.02,144.06 L519.59,144.01 L520.15,143.96 L520.72,143.92 L521.29,143.88 L521.86,143.85 L522.43,143.82 L523.00,143.80 L523.57,143.78 L524.14,143.76 L524.71,143.75 L525.28,143.74 L525.86,143.73 L526.43,143.73 L527.01,143.72 L527.58,143.72 L528.15,143.73 L528.73,143.73 L529.30,143.73 L529.88,143.74 L530.45,143.75 L531.03,143.75 L531.60,143.76 L532.17,143.77 L532.75,143.78 L533.32,143.79 L533.89,143.80 L534.47,143.81 L535.04,143.82 L535.61,143.83 L536.19,143.84 L536.76,143.86 L537.33,143.87 L537.91,143.88 L538.48,143.89 L539.05,143.91 L539.63,143.92 L540.20,143.93 L540.77,143.95 L541.34,143.96 L541.92,143.98 L542.49,143.99 L543.06,144.01 L543.63,144.02 L544.20,144.04" stroke="#33a185" stroke-width="3" fill="none" stroke-linejoin="round"/>
<path d="M119.20,20.80 L119.91,20.92 L120.62,21.04 L121.33,21.17 L122.04,21.29 L122.75,21.41 L123.46,21.54 L124.17,21.66 L124.88,21.79 L125.59,21.91 L126.30,22.04 L127.00,22.16 L127.71,22.29 L128.42,22.41 L129.13,22.54 L129.84,22.67 L130.55,22.80 L131.26,22.93 L131.97,23.06 L132.68,23.19 L133.39,23.32 L134.10,23.45 L134.81,23.58 L135.52,23.72 L136.23,23.85 L136.94,23.99 L137.65,24.12 L138.36,24.26 L139.07,24.40 L139.78,24.54 L140.49,24.68 L141.19,24.82 L141.90,24.97 L142.61,25.11 L143.32,25.26 L144.03,25.41 L144.74,25.57 L145.45,25.72 L146.16,25.88 L146.87,26.04 L147.58,26.20 L148.29,26.37 L149.00,26.54 L149.71,26.72 L150.42,26.90 L151.13,27.08 L151.84,27.27 L152.55,27.47 L153.26,27.67 L153.97,27.87 L154.68,28.08 L155.39,28.30 L156.09,28.52 L156.80,28.75 L157.51,28.99 L158.22,29.23 L158.93,29.48 L159.64,29.73 L160.35,30.00 L161.06,30.27 L161.77,30.55 L162.48,30.83 L163.19,31.13 L163.90,31.43 L164.61,31.75 L165.32,32.07 L166.03,32.40 L166.74,32.74 L167.45,33.09 L168.16,33.46 L168.87,33.83 L169.58,34.21 L170.29,34.60 L170.99,35.00 L171.70,35.42 L172.41,35.84 L173.12,36.28 L173.83,36.73 L174.54,37.19 L175.25,37.66 L175.96,38.14 L176.67,38.63 L177.38,39.13 L178.09,39.64 L178.80,40.16 L179.51,40.70 L180.22,41.24 L180.93,41.80 L181.64,42.36 L182.35,42.93 L183.06,43.52 L183.77,44.11 L184.48,44.72 L185.18,45.33 L185.89,45.96 L186.60,46.59 L187.31,47.24 L188.02,47.89 L188.73,48.55 L189.44,49.23 L190.15,49.91 L190.86,50.60 L191.57,51.30 L192.28,52.01 L192.99,52.73 L193.70,53.46 L194.41,54.20 L195.12,54.95 L195.83,55.71 L196.54,56.48 L197.25,57.25 L197.96,58.05 L198.67,58.85 L199.38,59.67 L200.08,60.49 L200.79,61.34 L201.50,62.19 L202.21,63.06 L202.92,63.95 L203.63,64.85 L204.34,65.77 L205.05,66.70 L205.76,67.66 L206.47,68.62 L207.18,69.61 L207.89,70.62 L208.60,71.64 L209.31,72.68 L210.02,73.74 L210.73,74.82 L211.44,75.92 L212.15,77.04 L212.86,78.18 L213.57,79.34 L214.28,80.52 L214.98,81.72 L215.69,82.94 L216.40,84.18 L217.11,85.44 L217.82,86.73 L218.53,88.03 L219.24,89.35 L219.95,90.68 L220.66,92.03 L221.37,93.39 L222.08,94.76 L222.79,96.14 L223.50,97.53 L224.21,98.92 L224.92,100.32 L225.63,101.72 L226.34,103.12 L227.05,104.52 L227.76,105.91 L228.47,107.30 L229.17,108.69 L229.88,110.08 L230.59,111.46 L231.30,112.84 L232.01,114.22 L232.72,115.59 L233.43,116.96 L234.14,118.33 L234.85,119.69 L235.56,121.05 L236.27,122.40 L236.98,123.72 L237.69,125.00 L238.40,126.22 L239.11,127.37 L239.82,128.47 L240.53,129.52 L241.24,130.51 L241.95,131.45 L242.66,132.35 L243.37,133.20 L244.07,134.01 L244.78,134.79 L245.49,135.52 L246.20,136.23 L246.91,136.89 L247.62,137.53 L248.33,138.14 L249.04,138.71 L249.75,139.26 L250.46,139.77 L251.17,140.26 L251.88,140.72 L252.59,141.15 L253.30,141.56 L254.01,141.94 L254.72,142.30 L255.43,142.64 L256.14,142.95 L256.85,143.25 L257.56,143.53 L258.27,143.80 L258.97,144.05 L259.68,144.29 L260.39,144.52 L261.10,144.74 L261.81,144.96 L262.52,145.17 L263.23,145.37 L263.94,145.57 L264.65,145.78 L265.36,145.98 L266.07,146.18 L266.78,146.39 L267.49,146.60 L268.20,146.81 L268.91,147.03 L269.62,147.24 L270.33,147.46 L271.04,147.67 L271.75,147.89 L272.46,148.11 L273.16,148.33 L273.87,148.55 L274.58,148.77 L275.29,148.99 L276.00,149.21 L276.71,149.43 L277.42,149.64 L278.13,149.86 L278.84,150.08 L279.55,150.30 L280.26,150.51 L280.97,150.72 L281.68,150.94 L282.39,151.15 L283.10,151.36 L283.81,151.56 L284.52,151.77 L285.23,151.97 L285.94,152.18 L286.65,152.38 L287.36,152.58 L288.06,152.77 L288.77,152.97 L289.48,153.16 L290.19,153.35 L290.90,153.54 L291.61,153.72 L292.32,153.90 L293.03,154.08 L293.74,154.26 L294.45,154.43 L295.16,154.60 L295.87,154.77 L296.58,154.93 L297.29,155.09 L298.00,155.25 L298.71,155.41 L299.42,155.56 L300.13,155.71 L300.84,155.85 L301.55,156.00 L302.26,156.14 L302.96,156.28 L303.67,156.42 L304.38,156.55 L305.09,156.69 L305.80,156.82 L306.51,156.95 L307.22,157.08 L307.93,157.21 L308.64,157.34 L309.35,157.47 L310.06,157.60 L310.77,157.72 L311.48,157.85 L312.19,157.98 L312.90,158.10 L313.61,158.23 L314.32,158.36 L315.03,158.49 L315.74,158.62 L316.45,158.75 L317.15,158.88 L317.86,159.01 L318.57,159.14 L319.28,159.28 L319.99,159.41 L320.70,159.55 L321.41,159.69 L322.12,159.83 L322.83,159.98 L323.54,160.12 L324.25,160.27 L324.96,160.41 L325.67,160.56 L326.38,160.71 L327.09,160.86 L327.80,161.01 L328.51,161.16 L329.22,161.32 L329.93,161.47 L330.64,161.63 L331.35,161.78 L332.05,161.94 L332.76,162.10 L333.47,162.25 L334.18,162.41 L334.89,162.57 L335.60,162.73 L336.31,162.89 L337.02,163.05 L337.73,163.22 L338.44,163.38 L339.15,163.54 L339.86,163.70 L340.57,163.86 L341.28,164.03 L341.99,164.19 L342.70,164.35 L343.41,164.51 L344.12,164.68 L344.83,164.84 L345.54,165.00 L346.25,165.16 L346.95,165.33 L347.66,165.49 L348.37,165.65 L349.08,165.81 L349.79,165.97 L350.50,166.13 L351.21,166.29 L351.92,166.45 L352.63,166.61 L353.34,166.77 L354.05,166.92 L354.76,167.08 L355.47,167.24 L356.18,167.39 L356.89,167.55 L357.60,167.70 L358.31,167.85 L359.02,168.01 L359.73,168.16 L360.44,168.31 L361.14,168.47 L361.85,168.62 L362.56,168.77 L363.27,168.92 L363.98,169.07 L364.69,169.22 L365.40,169.37 L366.11,169.52 L366.82,169.68 L367.53,169.83 L368.24,169.98 L368.95,170.13 L369.66,170.28 L370.37,170.43 L371.08,170.58 L371.79,170.73 L372.50,170.88 L373.21,171.04 L373.92,171.19 L374.63,171.34 L375.34,171.49 L376.04,171.65 L376.75,171.80 L377.46,171.95 L378.17,172.11 L378.88,172.26 L379.59,172.42 L380.30,172.57 L381.01,172.73 L381.72,172.89 L382.43,173.04 L383.14,173.20 L383.85,173.37 L384.56,173.53 L385.27,173.69 L385.98,173.86 L386.69,174.03 L387.40,174.20 L388.11,174.38 L388.82,174.56 L389.53,174.74 L390.24,174.92 L390.94,175.11 L391.65,175.30 L392.36,175.50 L393.07,175.70 L393.78,175.91 L394.49,176.12 L395.20,176.33 L395.91,176.55 L396.62,176.78 L397.33,177.01 L398.04,177.25 L398.75,177.49 L399.46,177.74 L400.17,178.00 L400.88,178.26 L401.59,178.53 L402.30,178.80 L403.01,179.08 L403.72,179.37 L404.43,179.67 L405.13,179.97 L405.84,180.28 L406.55,180.59 L407.26,180.92 L407.97,181.25 L408.68,181.59 L409.39,181.94 L410.10,182.30 L410.81,182.66 L411.52,183.03 L412.23,183.42 L412.94,183.81 L413.65,184.21 L414.36,184.62 L415.07,185.05 L415.78,185.50 L416.49,185.96 L417.20,186.45 L417.91,186.97 L418.62,187.51 L419.33,188.08 L420.03,188.68 L420.74,189.32 L421.45,189.99 L422.16,190.70 L422.87,191.46 L423.58,192.25 L424.29,193.08 L425.00,193.95 L425.71,194.86 L426.42,195.80 L427.13,196.78 L427.84,197.79 L428.55,198.84 L429.26,199.92 L429.97,201.04 L430.68,202.18 L431.39,203.34 L432.10,204.53 L432.81,205.74 L433.52,206.97 L434.23,208.21 L434.93,209.47 L435.64,210.73 L436.35,212.01 L437.06,213.30 L437.77,214.60 L438.48,215.90 L439.19,217.21 L439.90,218.53 L440.61,219.86 L441.32,221.20 L442.03,222.55 L442.74,223.91 L443.45,225.29 L444.16,226.67 L444.87,228.07 L445.58,229.47 L446.29,230.89 L447.00,232.31 L447.71,233.73 L448.42,235.17 L449.12,236.60 L449.83,238.04 L450.54,239.48 L451.25,240.93 L451.96,242.36 L452.67,243.80 L453.38,245.23 L454.09,246.65 L454.80,248.07 L455.51,249.47 L456.22,250.85 L456.93,252.21 L457.64,253.55 L458.35,254.86 L459.06,256.13 L459.77,257.37 L460.48,258.57 L461.19,259.74 L461.90,260.86 L462.61,261.94 L463.32,262.98 L464.02,263.98 L464.73,264.94 L465.44,265.86 L466.15,266.74 L466.86,267.59 L467.57,268.41 L468.28,269.20 L468.99,269.97 L469.70,270.71 L470.41,271.44 L471.12,272.14 L471.83,272.82 L472.54,273.49 L473.25,274.13 L473.96,274.76 L474.67,275.37 L475.38,275.97 L476.09,276.55 L476.80,277.11 L477.51,277.66 L478.22,278.20 L478.92,278.73 L479.63,279.24 L480.34,279.74 L481.05,280.24 L481.76,280.72 L482.47,281.20 L483.18,281.67 L483.89,282.13 L484.60,282.58 L485.31,283.03 L486.02,283.48 L486.73,283.92 L487.44,284.35 L488.15,284.78 L488.86,285.20 L489.57,285.62 L490.28,286.02 L490.99,286.42 L491.70,286.81 L492.41,287.19 L493.11,287.57 L493.82,287.93 L494.53,288.29 L495.24,288.64 L495.95,288.98 L496.66,289.31 L497.37,289.64 L498.08,289.96 L498.79,290.27 L499.50,290.58 L500.21,290.89 L500.92,291.19 L501.63,291.49 L502.34,291.78 L503.05,292.07 L503.76,292.36 L504.47,292.64 L505.18,292.92 L505.89,293.20 L506.60,293.47 L507.31,293.73 L508.01,294.00 L508.72,294.25 L509.43,294.50 L510.14,294.75 L510.85,294.99 L511.56,295.23 L512.27,295.46 L512.98,295.68 L513.69,295.90 L514.40,296.12 L515.11,296.33 L515.82,296.54 L516.53,296.75 L517.24,296.95 L517.95,297.15 L518.66,297.35 L519.37,297.54 L520.08,297.73 L520.79,297.92 L521.50,298.11 L522.21,298.29 L522.91,298.47 L523.62,298.65 L524.33,298.82 L525.04,299.00 L525.75,299.16 L526.46,299.33 L527.17,299.49 L527.88,299.65 L528.59,299.81 L529.30,299.96 L530.01,300.11 L530.72,300.25 L531.43,300.40 L532.14,300.54 L532.85,300.67 L533.56,300.81 L534.27,300.94 L534.98,301.07 L535.69,301.20 L536.40,301.33 L537.10,301.45 L537.81,301.57 L538.52,301.69 L539.23,301.81 L539.94,301.93 L540.65,302.05 L541.36,302.16 L542.07,302.28 L542.78,302.39 L543.49,302.50 L544.20,302.62" stroke="#3db2d9" stroke-width="3" fill="none" stroke-linejoin="round"/>
</g>
<rect x="119.2" y="20.8" width="425.0" height="340.4" fill="none" stroke="#333" stroke-width="1.8"/>
<text x="113.6" y="25.4" text-anchor="end">4</text>
<text x="113.6" y="49.7" text-anchor="end">3</text>
<text x="113.6" y="74.0" text-anchor="end">2</text>
<text x="113.6" y="98.3" text-anchor="end">1</text>
<text x="113.6" y="122.7" text-anchor="end">0</text>
<text x="113.6" y="147.0" text-anchor="end"><tspan style="font-size:11px;stroke:#262626;stroke-width:0.6">−</tspan><tspan dx="0.6">1</tspan></text>
<text x="113.6" y="171.3" text-anchor="end"><tspan style="font-size:11px;stroke:#262626;stroke-width:0.6">−</tspan><tspan dx="0.6">2</tspan></text>
<text x="113.6" y="195.6" text-anchor="end"><tspan style="font-size:11px;stroke:#262626;stroke-width:0.6">−</tspan><tspan dx="0.6">3</tspan></text>
<text x="113.6" y="219.9" text-anchor="end"><tspan style="font-size:11px;stroke:#262626;stroke-width:0.6">−</tspan><tspan dx="0.6">4</tspan></text>
<text x="113.6" y="244.2" text-anchor="end"><tspan style="font-size:11px;stroke:#262626;stroke-width:0.6">−</tspan><tspan dx="0.6">5</tspan></text>
<text x="113.6" y="268.5" text-anchor="end"><tspan style="font-size:11px;stroke:#262626;stroke-width:0.6">−</tspan><tspan dx="0.6">6</tspan></text>
<text x="113.6" y="292.9" text-anchor="end"><tspan style="font-size:11px;stroke:#262626;stroke-width:0.6">−</tspan><tspan dx="0.6">7</tspan></text>
<text x="113.6" y="317.2" text-anchor="end"><tspan style="font-size:11px;stroke:#262626;stroke-width:0.6">−</tspan><tspan dx="0.6">8</tspan></text>
<text x="113.6" y="341.5" text-anchor="end"><tspan style="font-size:11px;stroke:#262626;stroke-width:0.6">−</tspan><tspan dx="0.6">9</tspan></text>
<text x="113.6" y="365.8" text-anchor="end"><tspan style="font-size:11px;stroke:#262626;stroke-width:0.6">−</tspan><tspan dx="0.6">10</tspan></text>
<text x="552.0" y="25.4">0</text>
<text x="552.0" y="49.7"><tspan style="font-size:11px;stroke:#262626;stroke-width:0.6">−</tspan><tspan dx="0.6">50</tspan></text>
<text x="552.0" y="74.0"><tspan style="font-size:11px;stroke:#262626;stroke-width:0.6">−</tspan><tspan dx="0.6">100</tspan></text>
<text x="552.0" y="98.3"><tspan style="font-size:11px;stroke:#262626;stroke-width:0.6">−</tspan><tspan dx="0.6">150</tspan></text>
<text x="552.0" y="122.7"><tspan style="font-size:11px;stroke:#262626;stroke-width:0.6">−</tspan><tspan dx="0.6">200</tspan></text>
<text x="552.0" y="147.0"><tspan style="font-size:11px;stroke:#262626;stroke-width:0.6">−</tspan><tspan dx="0.6">250</tspan></text>
<text x="552.0" y="171.3"><tspan style="font-size:11px;stroke:#262626;stroke-width:0.6">−</tspan><tspan dx="0.6">300</tspan></text>
<text x="552.0" y="195.6"><tspan style="font-size:11px;stroke:#262626;stroke-width:0.6">−</tspan><tspan dx="0.6">350</tspan></text>
<text x="552.0" y="219.9"><tspan style="font-size:11px;stroke:#262626;stroke-width:0.6">−</tspan><tspan dx="0.6">400</tspan></text>
<text x="552.0" y="244.2"><tspan style="font-size:11px;stroke:#262626;stroke-width:0.6">−</tspan><tspan dx="0.6">450</tspan></text>
<text x="552.0" y="268.5"><tspan style="font-size:11px;stroke:#262626;stroke-width:0.6">−</tspan><tspan dx="0.6">500</tspan></text>
<text x="552.0" y="292.9"><tspan style="font-size:11px;stroke:#262626;stroke-width:0.6">−</tspan><tspan dx="0.6">550</tspan></text>
<text x="552.0" y="317.2"><tspan style="font-size:11px;stroke:#262626;stroke-width:0.6">−</tspan><tspan dx="0.6">600</tspan></text>
<text x="552.0" y="341.5"><tspan style="font-size:11px;stroke:#262626;stroke-width:0.6">−</tspan><tspan dx="0.6">650</tspan></text>
<text x="552.0" y="365.8"><tspan style="font-size:11px;stroke:#262626;stroke-width:0.6">−</tspan><tspan dx="0.6">700</tspan></text>
<text x="117.9" y="382.3" text-anchor="middle">1.00</text>
<text x="171.4" y="382.3" text-anchor="middle">1.25</text>
<text x="224.8" y="382.3" text-anchor="middle">1.50</text>
<text x="278.2" y="382.3" text-anchor="middle">1.75</text>
<text x="331.7" y="382.3" text-anchor="middle">2.00</text>
<text x="385.1" y="382.3" text-anchor="middle">2.25</text>
<text x="438.6" y="382.3" text-anchor="middle">2.50</text>
<text x="492.1" y="382.3" text-anchor="middle">2.75</text>
<text x="545.5" y="382.3" text-anchor="middle">3.00</text>
<text x="331.7" y="406.9" text-anchor="middle">Frequency (GHz)</text>
<text x="331.7" y="430.2" text-anchor="middle">(a)</text>
<text transform="translate(75.3,190.0) rotate(-90)" text-anchor="middle">Group Delay (ns) and Phase Delta (°)</text>
<text transform="translate(602.1,190.0) rotate(-90)" text-anchor="middle">Absolute Phase Change (°)</text>
<rect x="264.6" y="300.6" width="145.4" height="53.4" fill="#fff" stroke="#ececec" stroke-width="1"/>
<path d="M274,310.6H296" stroke="#c9584a" stroke-width="3"/>
<text x="308" y="315.2">Group Delay</text>
<path d="M274,327.9H296" stroke="#33a185" stroke-width="3"/>
<text x="308" y="332.5">Phase Delta</text>
<path d="M274,345.2H296" stroke="#3db2d9" stroke-width="3"/>
<text x="308" y="349.8">Absolute Phase</text>
<path d="M727.2,45.11H1152.2M727.2,69.43H1152.2M727.2,93.74H1152.2M727.2,118.06H1152.2M727.2,142.37H1152.2M727.2,166.69H1152.2M727.2,191.00H1152.2M727.2,215.31H1152.2M727.2,239.63H1152.2M727.2,263.94H1152.2M727.2,288.26H1152.2M727.2,312.57H1152.2M727.2,336.89H1152.2M779.35,20.8V361.2M832.80,20.8V361.2M886.25,20.8V361.2M939.70,20.8V361.2M993.15,20.8V361.2M1046.60,20.8V361.2M1100.05,20.8V361.2" stroke="#e4e4e4" stroke-width="1.0" fill="none"/>
<clipPath id="cpb"><rect x="727.2" y="20.8" width="425.0" height="340.4"/></clipPath><g clip-path="url(#cpb)">
<path d="M727.20,109.89 L727.91,109.41 L728.62,108.94 L729.33,108.47 L730.04,108.00 L730.75,107.53 L731.46,107.06 L732.17,106.60 L732.88,106.14 L733.59,105.68 L734.30,105.22 L735.00,104.78 L735.71,104.33 L736.42,103.89 L737.13,103.45 L737.84,103.02 L738.55,102.59 L739.26,102.17 L739.97,101.76 L740.68,101.34 L741.39,100.94 L742.10,100.54 L742.81,100.15 L743.52,99.76 L744.23,99.38 L744.94,99.01 L745.65,98.64 L746.36,98.28 L747.07,97.93 L747.78,97.58 L748.49,97.24 L749.19,96.91 L749.90,96.59 L750.61,96.28 L751.32,95.97 L752.03,95.68 L752.74,95.39 L753.45,95.11 L754.16,94.84 L754.87,94.57 L755.58,94.32 L756.29,94.07 L757.00,93.83 L757.71,93.61 L758.42,93.38 L759.13,93.17 L759.84,92.97 L760.55,92.77 L761.26,92.58 L761.97,92.40 L762.68,92.23 L763.39,92.06 L764.09,91.91 L764.80,91.76 L765.51,91.61 L766.22,91.48 L766.93,91.35 L767.64,91.23 L768.35,91.11 L769.06,91.00 L769.77,90.90 L770.48,90.80 L771.19,90.71 L771.90,90.63 L772.61,90.55 L773.32,90.48 L774.03,90.41 L774.74,90.35 L775.45,90.29 L776.16,90.24 L776.87,90.20 L777.58,90.15 L778.29,90.12 L778.99,90.08 L779.70,90.05 L780.41,90.03 L781.12,90.01 L781.83,89.99 L782.54,89.98 L783.25,89.97 L783.96,89.96 L784.67,89.96 L785.38,89.96 L786.09,89.96 L786.80,89.97 L787.51,89.98 L788.22,90.00 L788.93,90.01 L789.64,90.03 L790.35,90.06 L791.06,90.08 L791.77,90.11 L792.48,90.14 L793.18,90.17 L793.89,90.21 L794.60,90.25 L795.31,90.29 L796.02,90.33 L796.73,90.37 L797.44,90.42 L798.15,90.47 L798.86,90.52 L799.57,90.57 L800.28,90.62 L800.99,90.68 L801.70,90.73 L802.41,90.79 L803.12,90.85 L803.83,90.91 L804.54,90.98 L805.25,91.04 L805.96,91.11 L806.67,91.17 L807.38,91.24 L808.08,91.31 L808.79,91.39 L809.50,91.46 L810.21,91.54 L810.92,91.61 L811.63,91.69 L812.34,91.77 L813.05,91.85 L813.76,91.93 L814.47,92.02 L815.18,92.10 L815.89,92.18 L816.60,92.27 L817.31,92.36 L818.02,92.45 L818.73,92.54 L819.44,92.63 L820.15,92.72 L820.86,92.81 L821.57,92.91 L822.28,93.00 L822.98,93.09 L823.69,93.19 L824.40,93.28 L825.11,93.38 L825.82,93.47 L826.53,93.57 L827.24,93.66 L827.95,93.76 L828.66,93.85 L829.37,93.95 L830.08,94.04 L830.79,94.14 L831.50,94.24 L832.21,94.33 L832.92,94.43 L833.63,94.52 L834.34,94.62 L835.05,94.71 L835.76,94.81 L836.47,94.90 L837.17,94.99 L837.88,95.09 L838.59,95.18 L839.30,95.27 L840.01,95.37 L840.72,95.46 L841.43,95.55 L842.14,95.64 L842.85,95.73 L843.56,95.82 L844.27,95.91 L844.98,95.99 L845.69,96.08 L846.40,96.17 L847.11,96.25 L847.82,96.33 L848.53,96.42 L849.24,96.50 L849.95,96.58 L850.66,96.66 L851.37,96.74 L852.07,96.82 L852.78,96.90 L853.49,96.98 L854.20,97.06 L854.91,97.14 L855.62,97.21 L856.33,97.29 L857.04,97.37 L857.75,97.44 L858.46,97.52 L859.17,97.59 L859.88,97.67 L860.59,97.74 L861.30,97.82 L862.01,97.89 L862.72,97.97 L863.43,98.04 L864.14,98.12 L864.85,98.19 L865.56,98.27 L866.27,98.35 L866.97,98.42 L867.68,98.50 L868.39,98.57 L869.10,98.65 L869.81,98.73 L870.52,98.80 L871.23,98.88 L871.94,98.96 L872.65,99.04 L873.36,99.11 L874.07,99.19 L874.78,99.27 L875.49,99.35 L876.20,99.43 L876.91,99.51 L877.62,99.59 L878.33,99.67 L879.04,99.75 L879.75,99.84 L880.46,99.92 L881.16,100.00 L881.87,100.08 L882.58,100.16 L883.29,100.25 L884.00,100.33 L884.71,100.41 L885.42,100.50 L886.13,100.58 L886.84,100.66 L887.55,100.75 L888.26,100.83 L888.97,100.91 L889.68,101.00 L890.39,101.08 L891.10,101.17 L891.81,101.25 L892.52,101.33 L893.23,101.42 L893.94,101.50 L894.65,101.59 L895.36,101.67 L896.06,101.76 L896.77,101.84 L897.48,101.93 L898.19,102.01 L898.90,102.09 L899.61,102.18 L900.32,102.26 L901.03,102.35 L901.74,102.43 L902.45,102.52 L903.16,102.60 L903.87,102.68 L904.58,102.77 L905.29,102.85 L906.00,102.94 L906.71,103.02 L907.42,103.10 L908.13,103.18 L908.84,103.27 L909.55,103.35 L910.26,103.43 L910.96,103.51 L911.67,103.59 L912.38,103.67 L913.09,103.75 L913.80,103.82 L914.51,103.90 L915.22,103.97 L915.93,104.05 L916.64,104.12 L917.35,104.19 L918.06,104.27 L918.77,104.34 L919.48,104.40 L920.19,104.47 L920.90,104.54 L921.61,104.60 L922.32,104.67 L923.03,104.73 L923.74,104.79 L924.45,104.84 L925.15,104.90 L925.86,104.96 L926.57,105.01 L927.28,105.06 L927.99,105.11 L928.70,105.16 L929.41,105.20 L930.12,105.24 L930.83,105.29 L931.54,105.32 L932.25,105.36 L932.96,105.40 L933.67,105.43 L934.38,105.46 L935.09,105.48 L935.80,105.51 L936.51,105.53 L937.22,105.55 L937.93,105.57 L938.64,105.58 L939.35,105.59 L940.05,105.60 L940.76,105.61 L941.47,105.61 L942.18,105.61 L942.89,105.61 L943.60,105.60 L944.31,105.59 L945.02,105.58 L945.73,105.57 L946.44,105.55 L947.15,105.54 L947.86,105.52 L948.57,105.49 L949.28,105.47 L949.99,105.44 L950.70,105.41 L951.41,105.38 L952.12,105.35 L952.83,105.31 L953.54,105.28 L954.25,105.24 L954.95,105.20 L955.66,105.15 L956.37,105.11 L957.08,105.06 L957.79,105.02 L958.50,104.97 L959.21,104.92 L959.92,104.86 L960.63,104.81 L961.34,104.76 L962.05,104.70 L962.76,104.64 L963.47,104.59 L964.18,104.53 L964.89,104.47 L965.60,104.40 L966.31,104.34 L967.02,104.28 L967.73,104.21 L968.44,104.15 L969.14,104.08 L969.85,104.01 L970.56,103.95 L971.27,103.88 L971.98,103.81 L972.69,103.74 L973.40,103.66 L974.11,103.59 L974.82,103.52 L975.53,103.44 L976.24,103.37 L976.95,103.29 L977.66,103.21 L978.37,103.14 L979.08,103.06 L979.79,102.98 L980.50,102.90 L981.21,102.82 L981.92,102.74 L982.63,102.66 L983.34,102.58 L984.04,102.49 L984.75,102.41 L985.46,102.33 L986.17,102.24 L986.88,102.16 L987.59,102.08 L988.30,101.99 L989.01,101.90 L989.72,101.82 L990.43,101.73 L991.14,101.64 L991.85,101.56 L992.56,101.47 L993.27,101.38 L993.98,101.29 L994.69,101.21 L995.40,101.12 L996.11,101.03 L996.82,100.94 L997.53,100.85 L998.24,100.76 L998.94,100.67 L999.65,100.58 L1000.36,100.49 L1001.07,100.40 L1001.78,100.31 L1002.49,100.22 L1003.20,100.13 L1003.91,100.04 L1004.62,99.95 L1005.33,99.86 L1006.04,99.77 L1006.75,99.68 L1007.46,99.59 L1008.17,99.50 L1008.88,99.42 L1009.59,99.33 L1010.30,99.24 L1011.01,99.15 L1011.72,99.06 L1012.43,98.97 L1013.13,98.88 L1013.84,98.79 L1014.55,98.71 L1015.26,98.62 L1015.97,98.53 L1016.68,98.44 L1017.39,98.36 L1018.10,98.27 L1018.81,98.18 L1019.52,98.10 L1020.23,98.01 L1020.94,97.92 L1021.65,97.83 L1022.36,97.75 L1023.07,97.66 L1023.78,97.58 L1024.49,97.49 L1025.20,97.40 L1025.91,97.32 L1026.62,97.23 L1027.33,97.15 L1028.03,97.06 L1028.74,96.97 L1029.45,96.89 L1030.16,96.80 L1030.87,96.72 L1031.58,96.63 L1032.29,96.55 L1033.00,96.46 L1033.71,96.38 L1034.42,96.29 L1035.13,96.21 L1035.84,96.12 L1036.55,96.04 L1037.26,95.95 L1037.97,95.87 L1038.68,95.79 L1039.39,95.70 L1040.10,95.62 L1040.81,95.53 L1041.52,95.45 L1042.23,95.36 L1042.93,95.28 L1043.64,95.19 L1044.35,95.11 L1045.06,95.03 L1045.77,94.94 L1046.48,94.86 L1047.19,94.77 L1047.90,94.69 L1048.61,94.61 L1049.32,94.52 L1050.03,94.44 L1050.74,94.35 L1051.45,94.27 L1052.16,94.19 L1052.87,94.10 L1053.58,94.02 L1054.29,93.93 L1055.00,93.85 L1055.71,93.77 L1056.42,93.68 L1057.12,93.60 L1057.83,93.51 L1058.54,93.43 L1059.25,93.35 L1059.96,93.26 L1060.67,93.18 L1061.38,93.10 L1062.09,93.01 L1062.80,92.93 L1063.51,92.85 L1064.22,92.77 L1064.93,92.68 L1065.64,92.60 L1066.35,92.52 L1067.06,92.44 L1067.77,92.37 L1068.48,92.29 L1069.19,92.21 L1069.90,92.14 L1070.61,92.06 L1071.32,91.99 L1072.02,91.92 L1072.73,91.85 L1073.44,91.78 L1074.15,91.72 L1074.86,91.65 L1075.57,91.59 L1076.28,91.53 L1076.99,91.47 L1077.70,91.42 L1078.41,91.36 L1079.12,91.31 L1079.83,91.26 L1080.54,91.22 L1081.25,91.17 L1081.96,91.13 L1082.67,91.09 L1083.38,91.06 L1084.09,91.03 L1084.80,91.00 L1085.51,90.97 L1086.22,90.95 L1086.92,90.93 L1087.63,90.92 L1088.34,90.91 L1089.05,90.90 L1089.76,90.90 L1090.47,90.90 L1091.18,90.91 L1091.89,90.92 L1092.60,90.93 L1093.31,90.95 L1094.02,90.98 L1094.73,91.01 L1095.44,91.04 L1096.15,91.08 L1096.86,91.12 L1097.57,91.17 L1098.28,91.22 L1098.99,91.27 L1099.70,91.33 L1100.41,91.40 L1101.11,91.47 L1101.82,91.54 L1102.53,91.62 L1103.24,91.70 L1103.95,91.79 L1104.66,91.88 L1105.37,91.98 L1106.08,92.08 L1106.79,92.18 L1107.50,92.29 L1108.21,92.40 L1108.92,92.52 L1109.63,92.64 L1110.34,92.77 L1111.05,92.89 L1111.76,93.03 L1112.47,93.17 L1113.18,93.31 L1113.89,93.45 L1114.60,93.60 L1115.31,93.75 L1116.01,93.91 L1116.72,94.07 L1117.43,94.23 L1118.14,94.39 L1118.85,94.56 L1119.56,94.73 L1120.27,94.91 L1120.98,95.09 L1121.69,95.27 L1122.40,95.45 L1123.11,95.63 L1123.82,95.82 L1124.53,96.01 L1125.24,96.21 L1125.95,96.40 L1126.66,96.60 L1127.37,96.80 L1128.08,97.00 L1128.79,97.20 L1129.50,97.41 L1130.21,97.62 L1130.91,97.82 L1131.62,98.03 L1132.33,98.25 L1133.04,98.46 L1133.75,98.68 L1134.46,98.89 L1135.17,99.11 L1135.88,99.33 L1136.59,99.55 L1137.30,99.77 L1138.01,99.99 L1138.72,100.22 L1139.43,100.44 L1140.14,100.67 L1140.85,100.89 L1141.56,101.12 L1142.27,101.35 L1142.98,101.58 L1143.69,101.81 L1144.40,102.04 L1145.10,102.27 L1145.81,102.50 L1146.52,102.73 L1147.23,102.96 L1147.94,103.19 L1148.65,103.42 L1149.36,103.65 L1150.07,103.88 L1150.78,104.11 L1151.49,104.34 L1152.20,104.58" stroke="#c9584a" stroke-width="3" fill="none" stroke-linejoin="round"/>
<path d="M727.20,150.85 L727.91,151.93 L728.62,153.01 L729.33,154.09 L730.04,155.17 L730.75,156.24 L731.46,157.32 L732.17,158.39 L732.88,159.47 L733.59,160.54 L734.30,161.61 L735.00,162.68 L735.71,163.75 L736.42,164.81 L737.13,165.88 L737.84,166.94 L738.55,167.99 L739.26,169.05 L739.97,170.10 L740.68,171.14 L741.39,172.18 L742.10,173.22 L742.81,174.25 L743.52,175.27 L744.23,176.29 L744.94,177.30 L745.65,178.31 L746.36,179.30 L747.07,180.29 L747.78,181.27 L748.49,182.24 L749.19,183.21 L749.90,184.16 L750.61,185.10 L751.32,186.03 L752.03,186.95 L752.74,187.86 L753.45,188.75 L754.16,189.63 L754.87,190.50 L755.58,191.36 L756.29,192.20 L757.00,193.03 L757.71,193.84 L758.42,194.64 L759.13,195.43 L759.84,196.20 L760.55,196.95 L761.26,197.69 L761.97,198.41 L762.68,199.11 L763.39,199.80 L764.09,200.47 L764.80,201.13 L765.51,201.76 L766.22,202.38 L766.93,202.98 L767.64,203.57 L768.35,204.13 L769.06,204.68 L769.77,205.20 L770.48,205.71 L771.19,206.20 L771.90,206.66 L772.61,207.11 L773.32,207.54 L774.03,207.95 L774.74,208.35 L775.45,208.72 L776.16,209.07 L776.87,209.40 L777.58,209.72 L778.29,210.01 L778.99,210.29 L779.70,210.55 L780.41,210.78 L781.12,211.00 L781.83,211.20 L782.54,211.38 L783.25,211.55 L783.96,211.69 L784.67,211.82 L785.38,211.93 L786.09,212.02 L786.80,212.10 L787.51,212.16 L788.22,212.20 L788.93,212.23 L789.64,212.24 L790.35,212.24 L791.06,212.22 L791.77,212.19 L792.48,212.14 L793.18,212.08 L793.89,212.00 L794.60,211.91 L795.31,211.81 L796.02,211.70 L796.73,211.58 L797.44,211.44 L798.15,211.29 L798.86,211.14 L799.57,210.97 L800.28,210.79 L800.99,210.60 L801.70,210.40 L802.41,210.20 L803.12,209.98 L803.83,209.76 L804.54,209.53 L805.25,209.30 L805.96,209.05 L806.67,208.80 L807.38,208.54 L808.08,208.27 L808.79,208.00 L809.50,207.73 L810.21,207.44 L810.92,207.15 L811.63,206.86 L812.34,206.56 L813.05,206.26 L813.76,205.95 L814.47,205.64 L815.18,205.33 L815.89,205.01 L816.60,204.68 L817.31,204.36 L818.02,204.03 L818.73,203.70 L819.44,203.37 L820.15,203.03 L820.86,202.70 L821.57,202.36 L822.28,202.03 L822.98,201.69 L823.69,201.35 L824.40,201.01 L825.11,200.68 L825.82,200.34 L826.53,200.01 L827.24,199.67 L827.95,199.34 L828.66,199.01 L829.37,198.68 L830.08,198.36 L830.79,198.03 L831.50,197.71 L832.21,197.39 L832.92,197.07 L833.63,196.75 L834.34,196.43 L835.05,196.12 L835.76,195.80 L836.47,195.49 L837.17,195.17 L837.88,194.86 L838.59,194.55 L839.30,194.24 L840.01,193.94 L840.72,193.63 L841.43,193.32 L842.14,193.02 L842.85,192.71 L843.56,192.41 L844.27,192.11 L844.98,191.81 L845.69,191.51 L846.40,191.21 L847.11,190.91 L847.82,190.61 L848.53,190.31 L849.24,190.01 L849.95,189.72 L850.66,189.42 L851.37,189.12 L852.07,188.83 L852.78,188.53 L853.49,188.24 L854.20,187.94 L854.91,187.65 L855.62,187.35 L856.33,187.06 L857.04,186.77 L857.75,186.47 L858.46,186.18 L859.17,185.88 L859.88,185.59 L860.59,185.29 L861.30,185.00 L862.01,184.70 L862.72,184.41 L863.43,184.11 L864.14,183.82 L864.85,183.52 L865.56,183.22 L866.27,182.92 L866.97,182.62 L867.68,182.32 L868.39,182.02 L869.10,181.72 L869.81,181.42 L870.52,181.11 L871.23,180.81 L871.94,180.50 L872.65,180.20 L873.36,179.89 L874.07,179.58 L874.78,179.27 L875.49,178.97 L876.20,178.66 L876.91,178.35 L877.62,178.04 L878.33,177.73 L879.04,177.42 L879.75,177.11 L880.46,176.81 L881.16,176.50 L881.87,176.19 L882.58,175.88 L883.29,175.58 L884.00,175.27 L884.71,174.97 L885.42,174.67 L886.13,174.36 L886.84,174.06 L887.55,173.76 L888.26,173.46 L888.97,173.17 L889.68,172.87 L890.39,172.58 L891.10,172.29 L891.81,172.00 L892.52,171.71 L893.23,171.43 L893.94,171.14 L894.65,170.86 L895.36,170.59 L896.06,170.31 L896.77,170.04 L897.48,169.77 L898.19,169.51 L898.90,169.25 L899.61,168.99 L900.32,168.74 L901.03,168.48 L901.74,168.24 L902.45,168.00 L903.16,167.76 L903.87,167.52 L904.58,167.29 L905.29,167.07 L906.00,166.85 L906.71,166.63 L907.42,166.42 L908.13,166.21 L908.84,166.01 L909.55,165.81 L910.26,165.62 L910.96,165.43 L911.67,165.24 L912.38,165.06 L913.09,164.89 L913.80,164.72 L914.51,164.55 L915.22,164.39 L915.93,164.23 L916.64,164.08 L917.35,163.94 L918.06,163.79 L918.77,163.66 L919.48,163.53 L920.19,163.40 L920.90,163.28 L921.61,163.16 L922.32,163.05 L923.03,162.94 L923.74,162.84 L924.45,162.74 L925.15,162.65 L925.86,162.56 L926.57,162.48 L927.28,162.40 L927.99,162.32 L928.70,162.25 L929.41,162.19 L930.12,162.13 L930.83,162.07 L931.54,162.02 L932.25,161.98 L932.96,161.93 L933.67,161.90 L934.38,161.86 L935.09,161.83 L935.80,161.81 L936.51,161.79 L937.22,161.77 L937.93,161.76 L938.64,161.76 L939.35,161.75 L940.05,161.76 L940.76,161.76 L941.47,161.77 L942.18,161.78 L942.89,161.80 L943.60,161.83 L944.31,161.85 L945.02,161.88 L945.73,161.92 L946.44,161.96 L947.15,162.00 L947.86,162.05 L948.57,162.10 L949.28,162.16 L949.99,162.22 L950.70,162.28 L951.41,162.35 L952.12,162.42 L952.83,162.50 L953.54,162.58 L954.25,162.66 L954.95,162.75 L955.66,162.84 L956.37,162.94 L957.08,163.04 L957.79,163.15 L958.50,163.26 L959.21,163.37 L959.92,163.49 L960.63,163.61 L961.34,163.74 L962.05,163.87 L962.76,164.00 L963.47,164.14 L964.18,164.28 L964.89,164.43 L965.60,164.58 L966.31,164.73 L967.02,164.89 L967.73,165.06 L968.44,165.22 L969.14,165.40 L969.85,165.57 L970.56,165.75 L971.27,165.93 L971.98,166.12 L972.69,166.31 L973.40,166.51 L974.11,166.71 L974.82,166.91 L975.53,167.12 L976.24,167.33 L976.95,167.55 L977.66,167.77 L978.37,168.00 L979.08,168.23 L979.79,168.46 L980.50,168.69 L981.21,168.94 L981.92,169.18 L982.63,169.43 L983.34,169.68 L984.04,169.94 L984.75,170.20 L985.46,170.46 L986.17,170.73 L986.88,171.01 L987.59,171.28 L988.30,171.56 L989.01,171.85 L989.72,172.13 L990.43,172.42 L991.14,172.72 L991.85,173.02 L992.56,173.32 L993.27,173.63 L993.98,173.94 L994.69,174.25 L995.40,174.57 L996.11,174.88 L996.82,175.21 L997.53,175.53 L998.24,175.86 L998.94,176.19 L999.65,176.52 L1000.36,176.86 L1001.07,177.20 L1001.78,177.54 L1002.49,177.88 L1003.20,178.22 L1003.91,178.56 L1004.62,178.91 L1005.33,179.26 L1006.04,179.60 L1006.75,179.95 L1007.46,180.30 L1008.17,180.65 L1008.88,181.00 L1009.59,181.35 L1010.30,181.70 L1011.01,182.05 L1011.72,182.40 L1012.43,182.75 L1013.13,183.09 L1013.84,183.44 L1014.55,183.79 L1015.26,184.14 L1015.97,184.48 L1016.68,184.83 L1017.39,185.17 L1018.10,185.52 L1018.81,185.86 L1019.52,186.20 L1020.23,186.54 L1020.94,186.88 L1021.65,187.22 L1022.36,187.55 L1023.07,187.89 L1023.78,188.22 L1024.49,188.55 L1025.20,188.88 L1025.91,189.21 L1026.62,189.53 L1027.33,189.85 L1028.03,190.17 L1028.74,190.49 L1029.45,190.81 L1030.16,191.13 L1030.87,191.44 L1031.58,191.75 L1032.29,192.06 L1033.00,192.37 L1033.71,192.68 L1034.42,192.98 L1035.13,193.29 L1035.84,193.59 L1036.55,193.89 L1037.26,194.20 L1037.97,194.50 L1038.68,194.80 L1039.39,195.10 L1040.10,195.39 L1040.81,195.69 L1041.52,195.99 L1042.23,196.29 L1042.93,196.58 L1043.64,196.88 L1044.35,197.18 L1045.06,197.47 L1045.77,197.77 L1046.48,198.06 L1047.19,198.36 L1047.90,198.65 L1048.61,198.95 L1049.32,199.24 L1050.03,199.54 L1050.74,199.83 L1051.45,200.13 L1052.16,200.42 L1052.87,200.72 L1053.58,201.01 L1054.29,201.31 L1055.00,201.60 L1055.71,201.90 L1056.42,202.20 L1057.12,202.49 L1057.83,202.79 L1058.54,203.08 L1059.25,203.37 L1059.96,203.67 L1060.67,203.96 L1061.38,204.25 L1062.09,204.54 L1062.80,204.82 L1063.51,205.11 L1064.22,205.39 L1064.93,205.67 L1065.64,205.95 L1066.35,206.23 L1067.06,206.50 L1067.77,206.77 L1068.48,207.03 L1069.19,207.29 L1069.90,207.55 L1070.61,207.80 L1071.32,208.05 L1072.02,208.30 L1072.73,208.53 L1073.44,208.77 L1074.15,209.00 L1074.86,209.22 L1075.57,209.43 L1076.28,209.64 L1076.99,209.85 L1077.70,210.04 L1078.41,210.23 L1079.12,210.42 L1079.83,210.59 L1080.54,210.76 L1081.25,210.92 L1081.96,211.07 L1082.67,211.22 L1083.38,211.36 L1084.09,211.49 L1084.80,211.61 L1085.51,211.72 L1086.22,211.82 L1086.92,211.92 L1087.63,212.00 L1088.34,212.08 L1089.05,212.15 L1089.76,212.21 L1090.47,212.25 L1091.18,212.29 L1091.89,212.32 L1092.60,212.34 L1093.31,212.35 L1094.02,212.34 L1094.73,212.33 L1095.44,212.31 L1096.15,212.27 L1096.86,212.23 L1097.57,212.17 L1098.28,212.10 L1098.99,212.02 L1099.70,211.93 L1100.41,211.83 L1101.11,211.71 L1101.82,211.58 L1102.53,211.44 L1103.24,211.29 L1103.95,211.12 L1104.66,210.95 L1105.37,210.76 L1106.08,210.55 L1106.79,210.34 L1107.50,210.11 L1108.21,209.86 L1108.92,209.61 L1109.63,209.33 L1110.34,209.05 L1111.05,208.75 L1111.76,208.44 L1112.47,208.11 L1113.18,207.77 L1113.89,207.41 L1114.60,207.04 L1115.31,206.66 L1116.01,206.25 L1116.72,205.84 L1117.43,205.41 L1118.14,204.96 L1118.85,204.50 L1119.56,204.02 L1120.27,203.53 L1120.98,203.02 L1121.69,202.49 L1122.40,201.95 L1123.11,201.39 L1123.82,200.82 L1124.53,200.23 L1125.24,199.62 L1125.95,199.00 L1126.66,198.36 L1127.37,197.70 L1128.08,197.02 L1128.79,196.33 L1129.50,195.63 L1130.21,194.90 L1130.91,194.17 L1131.62,193.42 L1132.33,192.65 L1133.04,191.87 L1133.75,191.08 L1134.46,190.28 L1135.17,189.47 L1135.88,188.64 L1136.59,187.80 L1137.30,186.95 L1138.01,186.09 L1138.72,185.23 L1139.43,184.35 L1140.14,183.46 L1140.85,182.57 L1141.56,181.67 L1142.27,180.76 L1142.98,179.84 L1143.69,178.92 L1144.40,177.99 L1145.10,177.06 L1145.81,176.12 L1146.52,175.18 L1147.23,174.23 L1147.94,173.29 L1148.65,172.33 L1149.36,171.38 L1150.07,170.42 L1150.78,169.46 L1151.49,168.51 L1152.20,167.55" stroke="#33a185" stroke-width="3" fill="none" stroke-linejoin="round"/>
<path d="M727.20,20.71 L727.91,21.17 L728.62,21.64 L729.33,22.11 L730.04,22.58 L730.75,23.05 L731.46,23.52 L732.17,23.99 L732.88,24.46 L733.59,24.93 L734.30,25.40 L735.00,25.87 L735.71,26.34 L736.42,26.81 L737.13,27.28 L737.84,27.76 L738.55,28.23 L739.26,28.70 L739.97,29.18 L740.68,29.65 L741.39,30.13 L742.10,30.60 L742.81,31.08 L743.52,31.56 L744.23,32.04 L744.94,32.53 L745.65,33.01 L746.36,33.50 L747.07,33.99 L747.78,34.48 L748.49,34.97 L749.19,35.47 L749.90,35.97 L750.61,36.48 L751.32,36.98 L752.03,37.49 L752.74,38.00 L753.45,38.52 L754.16,39.04 L754.87,39.56 L755.58,40.08 L756.29,40.60 L757.00,41.13 L757.71,41.66 L758.42,42.20 L759.13,42.73 L759.84,43.27 L760.55,43.82 L761.26,44.36 L761.97,44.91 L762.68,45.46 L763.39,46.01 L764.09,46.57 L764.80,47.13 L765.51,47.70 L766.22,48.27 L766.93,48.84 L767.64,49.41 L768.35,49.99 L769.06,50.57 L769.77,51.15 L770.48,51.73 L771.19,52.32 L771.90,52.90 L772.61,53.49 L773.32,54.08 L774.03,54.67 L774.74,55.27 L775.45,55.86 L776.16,56.45 L776.87,57.05 L777.58,57.65 L778.29,58.25 L778.99,58.85 L779.70,59.45 L780.41,60.05 L781.12,60.65 L781.83,61.25 L782.54,61.85 L783.25,62.45 L783.96,63.06 L784.67,63.65 L785.38,64.25 L786.09,64.85 L786.80,65.45 L787.51,66.04 L788.22,66.63 L788.93,67.22 L789.64,67.81 L790.35,68.39 L791.06,68.97 L791.77,69.55 L792.48,70.12 L793.18,70.70 L793.89,71.27 L794.60,71.84 L795.31,72.41 L796.02,72.97 L796.73,73.53 L797.44,74.09 L798.15,74.65 L798.86,75.21 L799.57,75.77 L800.28,76.32 L800.99,76.87 L801.70,77.42 L802.41,77.97 L803.12,78.51 L803.83,79.06 L804.54,79.60 L805.25,80.14 L805.96,80.67 L806.67,81.21 L807.38,81.74 L808.08,82.28 L808.79,82.81 L809.50,83.34 L810.21,83.87 L810.92,84.39 L811.63,84.92 L812.34,85.45 L813.05,85.97 L813.76,86.50 L814.47,87.03 L815.18,87.55 L815.89,88.08 L816.60,88.60 L817.31,89.13 L818.02,89.65 L818.73,90.18 L819.44,90.70 L820.15,91.23 L820.86,91.75 L821.57,92.28 L822.28,92.81 L822.98,93.33 L823.69,93.86 L824.40,94.38 L825.11,94.91 L825.82,95.44 L826.53,95.97 L827.24,96.49 L827.95,97.02 L828.66,97.55 L829.37,98.08 L830.08,98.61 L830.79,99.14 L831.50,99.67 L832.21,100.20 L832.92,100.73 L833.63,101.26 L834.34,101.80 L835.05,102.33 L835.76,102.86 L836.47,103.39 L837.17,103.93 L837.88,104.46 L838.59,104.99 L839.30,105.53 L840.01,106.06 L840.72,106.59 L841.43,107.12 L842.14,107.66 L842.85,108.19 L843.56,108.72 L844.27,109.25 L844.98,109.78 L845.69,110.31 L846.40,110.84 L847.11,111.37 L847.82,111.89 L848.53,112.42 L849.24,112.95 L849.95,113.47 L850.66,114.00 L851.37,114.52 L852.07,115.04 L852.78,115.56 L853.49,116.07 L854.20,116.59 L854.91,117.10 L855.62,117.61 L856.33,118.12 L857.04,118.62 L857.75,119.13 L858.46,119.63 L859.17,120.12 L859.88,120.62 L860.59,121.11 L861.30,121.59 L862.01,122.08 L862.72,122.56 L863.43,123.03 L864.14,123.50 L864.85,123.97 L865.56,124.44 L866.27,124.90 L866.97,125.35 L867.68,125.80 L868.39,126.25 L869.10,126.69 L869.81,127.13 L870.52,127.57 L871.23,128.00 L871.94,128.43 L872.65,128.85 L873.36,129.27 L874.07,129.69 L874.78,130.10 L875.49,130.51 L876.20,130.91 L876.91,131.32 L877.62,131.72 L878.33,132.11 L879.04,132.50 L879.75,132.89 L880.46,133.28 L881.16,133.66 L881.87,134.04 L882.58,134.42 L883.29,134.79 L884.00,135.16 L884.71,135.53 L885.42,135.90 L886.13,136.26 L886.84,136.62 L887.55,136.98 L888.26,137.34 L888.97,137.69 L889.68,138.05 L890.39,138.40 L891.10,138.75 L891.81,139.09 L892.52,139.44 L893.23,139.78 L893.94,140.13 L894.65,140.47 L895.36,140.81 L896.06,141.15 L896.77,141.49 L897.48,141.83 L898.19,142.17 L898.90,142.51 L899.61,142.85 L900.32,143.18 L901.03,143.52 L901.74,143.86 L902.45,144.20 L903.16,144.54 L903.87,144.87 L904.58,145.21 L905.29,145.55 L906.00,145.89 L906.71,146.23 L907.42,146.57 L908.13,146.91 L908.84,147.26 L909.55,147.60 L910.26,147.94 L910.96,148.28 L911.67,148.62 L912.38,148.96 L913.09,149.31 L913.80,149.65 L914.51,149.99 L915.22,150.33 L915.93,150.67 L916.64,151.02 L917.35,151.36 L918.06,151.70 L918.77,152.04 L919.48,152.38 L920.19,152.72 L920.90,153.06 L921.61,153.40 L922.32,153.74 L923.03,154.08 L923.74,154.42 L924.45,154.75 L925.15,155.09 L925.86,155.43 L926.57,155.76 L927.28,156.09 L927.99,156.43 L928.70,156.76 L929.41,157.09 L930.12,157.41 L930.83,157.74 L931.54,158.07 L932.25,158.39 L932.96,158.71 L933.67,159.03 L934.38,159.35 L935.09,159.66 L935.80,159.98 L936.51,160.29 L937.22,160.60 L937.93,160.90 L938.64,161.21 L939.35,161.51 L940.05,161.81 L940.76,162.11 L941.47,162.40 L942.18,162.70 L942.89,162.99 L943.60,163.28 L944.31,163.57 L945.02,163.86 L945.73,164.15 L946.44,164.43 L947.15,164.71 L947.86,165.00 L948.57,165.28 L949.28,165.56 L949.99,165.84 L950.70,166.11 L951.41,166.39 L952.12,166.67 L952.83,166.94 L953.54,167.21 L954.25,167.49 L954.95,167.76 L955.66,168.03 L956.37,168.31 L957.08,168.58 L957.79,168.85 L958.50,169.13 L959.21,169.40 L959.92,169.68 L960.63,169.96 L961.34,170.23 L962.05,170.51 L962.76,170.79 L963.47,171.08 L964.18,171.36 L964.89,171.64 L965.60,171.93 L966.31,172.22 L967.02,172.51 L967.73,172.79 L968.44,173.09 L969.14,173.38 L969.85,173.67 L970.56,173.96 L971.27,174.26 L971.98,174.56 L972.69,174.85 L973.40,175.15 L974.11,175.45 L974.82,175.76 L975.53,176.06 L976.24,176.36 L976.95,176.67 L977.66,176.97 L978.37,177.28 L979.08,177.59 L979.79,177.90 L980.50,178.21 L981.21,178.52 L981.92,178.84 L982.63,179.15 L983.34,179.47 L984.04,179.79 L984.75,180.10 L985.46,180.43 L986.17,180.75 L986.88,181.07 L987.59,181.40 L988.30,181.73 L989.01,182.05 L989.72,182.38 L990.43,182.72 L991.14,183.05 L991.85,183.39 L992.56,183.72 L993.27,184.06 L993.98,184.41 L994.69,184.75 L995.40,185.09 L996.11,185.44 L996.82,185.79 L997.53,186.14 L998.24,186.50 L998.94,186.85 L999.65,187.21 L1000.36,187.57 L1001.07,187.93 L1001.78,188.30 L1002.49,188.67 L1003.20,189.04 L1003.91,189.41 L1004.62,189.79 L1005.33,190.17 L1006.04,190.55 L1006.75,190.93 L1007.46,191.32 L1008.17,191.71 L1008.88,192.10 L1009.59,192.50 L1010.30,192.90 L1011.01,193.30 L1011.72,193.70 L1012.43,194.11 L1013.13,194.52 L1013.84,194.94 L1014.55,195.36 L1015.26,195.78 L1015.97,196.20 L1016.68,196.62 L1017.39,197.05 L1018.10,197.48 L1018.81,197.92 L1019.52,198.35 L1020.23,198.79 L1020.94,199.23 L1021.65,199.67 L1022.36,200.12 L1023.07,200.57 L1023.78,201.02 L1024.49,201.47 L1025.20,201.93 L1025.91,202.38 L1026.62,202.84 L1027.33,203.31 L1028.03,203.77 L1028.74,204.23 L1029.45,204.70 L1030.16,205.17 L1030.87,205.65 L1031.58,206.12 L1032.29,206.60 L1033.00,207.08 L1033.71,207.57 L1034.42,208.06 L1035.13,208.55 L1035.84,209.04 L1036.55,209.54 L1037.26,210.04 L1037.97,210.55 L1038.68,211.05 L1039.39,211.57 L1040.10,212.08 L1040.81,212.60 L1041.52,213.13 L1042.23,213.65 L1042.93,214.19 L1043.64,214.72 L1044.35,215.27 L1045.06,215.81 L1045.77,216.36 L1046.48,216.92 L1047.19,217.48 L1047.90,218.04 L1048.61,218.61 L1049.32,219.18 L1050.03,219.76 L1050.74,220.34 L1051.45,220.93 L1052.16,221.52 L1052.87,222.11 L1053.58,222.71 L1054.29,223.32 L1055.00,223.93 L1055.71,224.54 L1056.42,225.16 L1057.12,225.78 L1057.83,226.40 L1058.54,227.03 L1059.25,227.66 L1059.96,228.30 L1060.67,228.93 L1061.38,229.57 L1062.09,230.22 L1062.80,230.86 L1063.51,231.51 L1064.22,232.16 L1064.93,232.81 L1065.64,233.46 L1066.35,234.11 L1067.06,234.76 L1067.77,235.42 L1068.48,236.08 L1069.19,236.73 L1069.90,237.39 L1070.61,238.04 L1071.32,238.70 L1072.02,239.35 L1072.73,240.01 L1073.44,240.66 L1074.15,241.32 L1074.86,241.97 L1075.57,242.62 L1076.28,243.27 L1076.99,243.91 L1077.70,244.56 L1078.41,245.20 L1079.12,245.84 L1079.83,246.48 L1080.54,247.12 L1081.25,247.75 L1081.96,248.39 L1082.67,249.02 L1083.38,249.65 L1084.09,250.27 L1084.80,250.90 L1085.51,251.52 L1086.22,252.14 L1086.92,252.76 L1087.63,253.37 L1088.34,253.99 L1089.05,254.60 L1089.76,255.21 L1090.47,255.82 L1091.18,256.42 L1091.89,257.03 L1092.60,257.63 L1093.31,258.23 L1094.02,258.82 L1094.73,259.42 L1095.44,260.01 L1096.15,260.60 L1096.86,261.19 L1097.57,261.77 L1098.28,262.36 L1098.99,262.94 L1099.70,263.52 L1100.41,264.10 L1101.11,264.67 L1101.82,265.25 L1102.53,265.82 L1103.24,266.39 L1103.95,266.96 L1104.66,267.53 L1105.37,268.09 L1106.08,268.65 L1106.79,269.21 L1107.50,269.77 L1108.21,270.33 L1108.92,270.89 L1109.63,271.44 L1110.34,271.99 L1111.05,272.54 L1111.76,273.09 L1112.47,273.64 L1113.18,274.18 L1113.89,274.73 L1114.60,275.27 L1115.31,275.81 L1116.01,276.35 L1116.72,276.89 L1117.43,277.42 L1118.14,277.96 L1118.85,278.49 L1119.56,279.02 L1120.27,279.55 L1120.98,280.08 L1121.69,280.61 L1122.40,281.13 L1123.11,281.66 L1123.82,282.18 L1124.53,282.70 L1125.24,283.22 L1125.95,283.74 L1126.66,284.26 L1127.37,284.78 L1128.08,285.29 L1128.79,285.81 L1129.50,286.32 L1130.21,286.83 L1130.91,287.34 L1131.62,287.85 L1132.33,288.36 L1133.04,288.86 L1133.75,289.37 L1134.46,289.87 L1135.17,290.37 L1135.88,290.88 L1136.59,291.38 L1137.30,291.87 L1138.01,292.37 L1138.72,292.87 L1139.43,293.36 L1140.14,293.85 L1140.85,294.35 L1141.56,294.84 L1142.27,295.33 L1142.98,295.81 L1143.69,296.30 L1144.40,296.79 L1145.10,297.27 L1145.81,297.76 L1146.52,298.24 L1147.23,298.72 L1147.94,299.21 L1148.65,299.69 L1149.36,300.17 L1150.07,300.65 L1150.78,301.13 L1151.49,301.61 L1152.20,302.09" stroke="#3db2d9" stroke-width="3" fill="none" stroke-linejoin="round"/>
</g>
<rect x="727.2" y="20.8" width="425.0" height="340.4" fill="none" stroke="#333" stroke-width="1.8"/>
<text x="721.6" y="25.4" text-anchor="end">4</text>
<text x="721.6" y="49.7" text-anchor="end">3</text>
<text x="721.6" y="74.0" text-anchor="end">2</text>
<text x="721.6" y="98.3" text-anchor="end">1</text>
<text x="721.6" y="122.7" text-anchor="end">0</text>
<text x="721.6" y="147.0" text-anchor="end"><tspan style="font-size:11px;stroke:#262626;stroke-width:0.6">−</tspan><tspan dx="0.6">1</tspan></text>
<text x="721.6" y="171.3" text-anchor="end"><tspan style="font-size:11px;stroke:#262626;stroke-width:0.6">−</tspan><tspan dx="0.6">2</tspan></text>
<text x="721.6" y="195.6" text-anchor="end"><tspan style="font-size:11px;stroke:#262626;stroke-width:0.6">−</tspan><tspan dx="0.6">3</tspan></text>
<text x="721.6" y="219.9" text-anchor="end"><tspan style="font-size:11px;stroke:#262626;stroke-width:0.6">−</tspan><tspan dx="0.6">4</tspan></text>
<text x="721.6" y="244.2" text-anchor="end"><tspan style="font-size:11px;stroke:#262626;stroke-width:0.6">−</tspan><tspan dx="0.6">5</tspan></text>
<text x="721.6" y="268.5" text-anchor="end"><tspan style="font-size:11px;stroke:#262626;stroke-width:0.6">−</tspan><tspan dx="0.6">6</tspan></text>
<text x="721.6" y="292.9" text-anchor="end"><tspan style="font-size:11px;stroke:#262626;stroke-width:0.6">−</tspan><tspan dx="0.6">7</tspan></text>
<text x="721.6" y="317.2" text-anchor="end"><tspan style="font-size:11px;stroke:#262626;stroke-width:0.6">−</tspan><tspan dx="0.6">8</tspan></text>
<text x="721.6" y="341.5" text-anchor="end"><tspan style="font-size:11px;stroke:#262626;stroke-width:0.6">−</tspan><tspan dx="0.6">9</tspan></text>
<text x="721.6" y="365.8" text-anchor="end"><tspan style="font-size:11px;stroke:#262626;stroke-width:0.6">−</tspan><tspan dx="0.6">10</tspan></text>
<text x="1160.0" y="25.4">0</text>
<text x="1160.0" y="49.7"><tspan style="font-size:11px;stroke:#262626;stroke-width:0.6">−</tspan><tspan dx="0.6">50</tspan></text>
<text x="1160.0" y="74.0"><tspan style="font-size:11px;stroke:#262626;stroke-width:0.6">−</tspan><tspan dx="0.6">100</tspan></text>
<text x="1160.0" y="98.3"><tspan style="font-size:11px;stroke:#262626;stroke-width:0.6">−</tspan><tspan dx="0.6">150</tspan></text>
<text x="1160.0" y="122.7"><tspan style="font-size:11px;stroke:#262626;stroke-width:0.6">−</tspan><tspan dx="0.6">200</tspan></text>
<text x="1160.0" y="147.0"><tspan style="font-size:11px;stroke:#262626;stroke-width:0.6">−</tspan><tspan dx="0.6">250</tspan></text>
<text x="1160.0" y="171.3"><tspan style="font-size:11px;stroke:#262626;stroke-width:0.6">−</tspan><tspan dx="0.6">300</tspan></text>
<text x="1160.0" y="195.6"><tspan style="font-size:11px;stroke:#262626;stroke-width:0.6">−</tspan><tspan dx="0.6">350</tspan></text>
<text x="1160.0" y="219.9"><tspan style="font-size:11px;stroke:#262626;stroke-width:0.6">−</tspan><tspan dx="0.6">400</tspan></text>
<text x="1160.0" y="244.2"><tspan style="font-size:11px;stroke:#262626;stroke-width:0.6">−</tspan><tspan dx="0.6">450</tspan></text>
<text x="1160.0" y="268.5"><tspan style="font-size:11px;stroke:#262626;stroke-width:0.6">−</tspan><tspan dx="0.6">500</tspan></text>
<text x="1160.0" y="292.9"><tspan style="font-size:11px;stroke:#262626;stroke-width:0.6">−</tspan><tspan dx="0.6">550</tspan></text>
<text x="1160.0" y="317.2"><tspan style="font-size:11px;stroke:#262626;stroke-width:0.6">−</tspan><tspan dx="0.6">600</tspan></text>
<text x="1160.0" y="341.5"><tspan style="font-size:11px;stroke:#262626;stroke-width:0.6">−</tspan><tspan dx="0.6">650</tspan></text>
<text x="1160.0" y="365.8"><tspan style="font-size:11px;stroke:#262626;stroke-width:0.6">−</tspan><tspan dx="0.6">700</tspan></text>
<text x="725.9" y="382.3" text-anchor="middle">1.00</text>
<text x="779.4" y="382.3" text-anchor="middle">1.25</text>
<text x="832.8" y="382.3" text-anchor="middle">1.50</text>
<text x="886.2" y="382.3" text-anchor="middle">1.75</text>
<text x="939.7" y="382.3" text-anchor="middle">2.00</text>
<text x="993.2" y="382.3" text-anchor="middle">2.25</text>
<text x="1046.6" y="382.3" text-anchor="middle">2.50</text>
<text x="1100.0" y="382.3" text-anchor="middle">2.75</text>
<text x="1153.5" y="382.3" text-anchor="middle">3.00</text>
<text x="939.7" y="406.9" text-anchor="middle">Frequency (GHz)</text>
<text x="939.7" y="430.2" text-anchor="middle">(b)</text>
<text transform="translate(683.3,190.0) rotate(-90)" text-anchor="middle">Group Delay (ns) and Phase Delta (°)</text>
<text transform="translate(1210.1,190.0) rotate(-90)" text-anchor="middle">Absolute Phase Change (°)</text>
<rect x="872.6" y="300.6" width="145.4" height="53.4" fill="#fff" stroke="#ececec" stroke-width="1"/>
<path d="M882,310.6H904" stroke="#c9584a" stroke-width="3"/>
<text x="916" y="315.2">Group Delay</text>
<path d="M882,327.9H904" stroke="#33a185" stroke-width="3"/>
<text x="916" y="332.5">Phase Delta</text>
<path d="M882,345.2H904" stroke="#3db2d9" stroke-width="3"/>
<text x="916" y="349.8">Absolute Phase</text>
</svg>
<span class="cap" style="left:46.5px;top:463px">图</span>
<span class="cap" style="left:67.6px;top:463px;letter-spacing:1.3px">9.</span>
<span class="cap" style="left:87.9px;top:463px">群延迟平坦度影响与线性相位的偏差：</span>
<span class="cap" style="left:464.0px;top:463px;letter-spacing:1.3px">(a)</span>
<span class="cap" style="left:493.1px;top:463px">显示</span>
<span class="cap" style="left:537.5px;top:463px;letter-spacing:1.3px">2.24</span>
<span class="cap" style="left:592.6px;top:463px;letter-spacing:1.3px">ns</span>
<span class="cap" style="left:617.7px;top:463px">的群延迟平坦度</span>
<span class="cap" style="left:778.8px;top:463px;letter-spacing:1.3px">(b)</span>
<span class="cap" style="left:809.7px;top:463px">显示</span>
<span class="cap" style="left:855.4px;top:463px;letter-spacing:1.3px">0.8</span>
<span class="cap" style="left:896.0px;top:463px;letter-spacing:1.3px">ns</span>
<span class="cap" style="left:919.8px;top:463px">的平坦度，两者对比可看出，相</span>
<span class="cap" style="left:491.9px;top:517px">位变化与频率的关系更一致。</span>
</body></html>
